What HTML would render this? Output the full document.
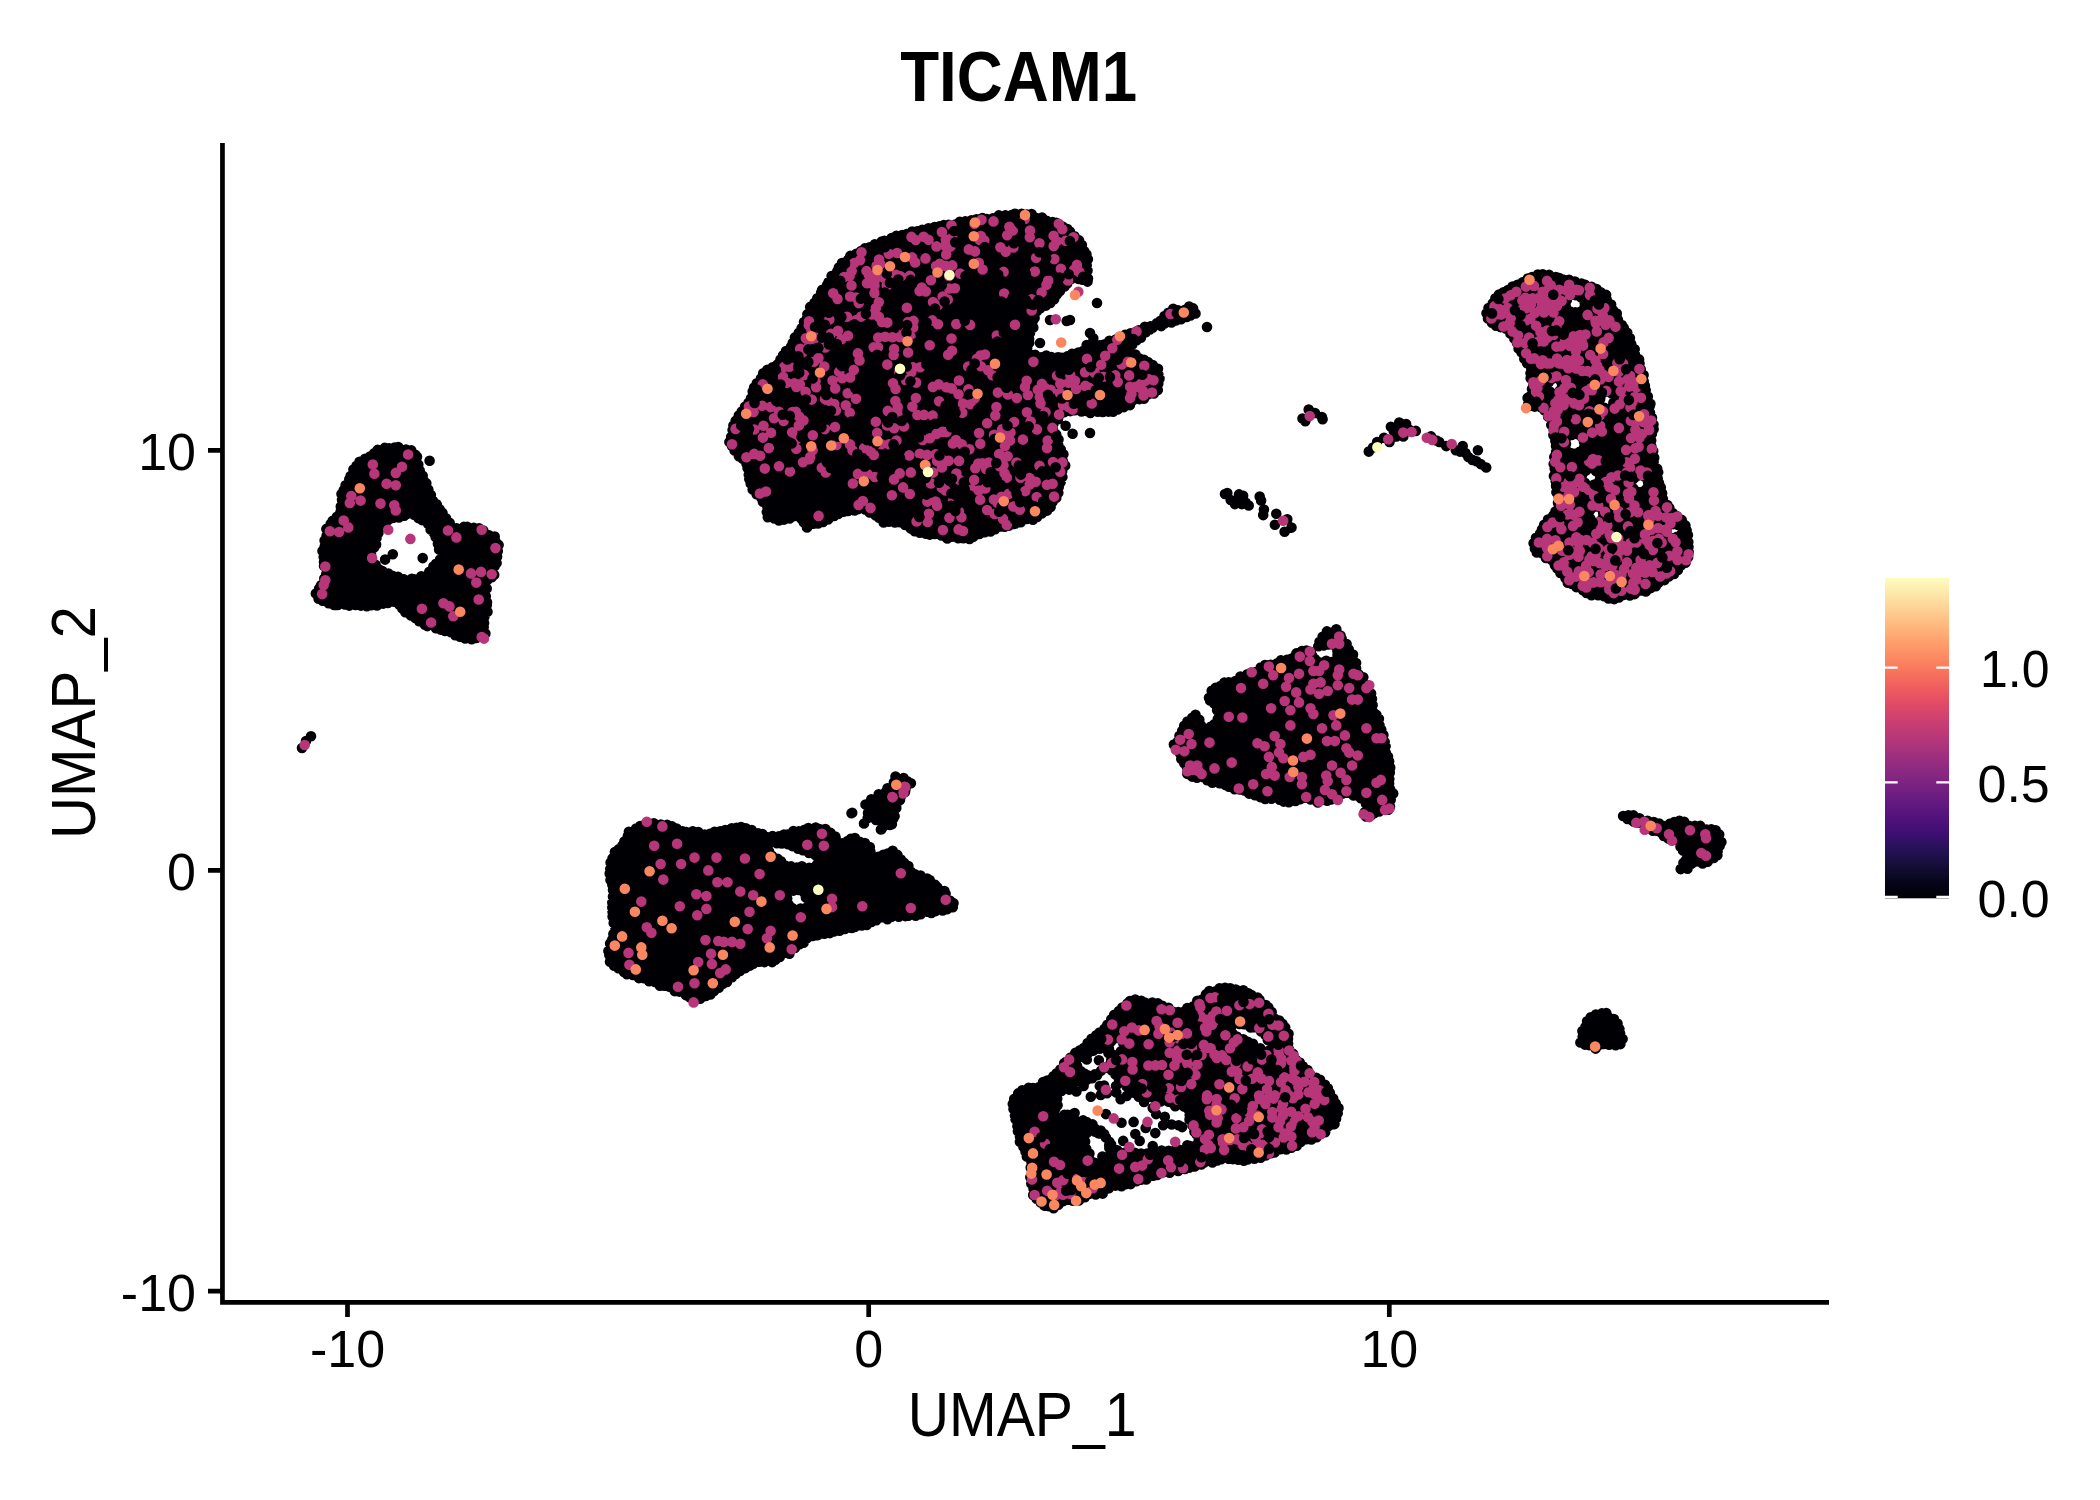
<!DOCTYPE html>
<html><head><meta charset="utf-8"><style>html,body{margin:0;padding:0;background:#fff;width:2100px;height:1500px;overflow:hidden}</style></head>
<body><svg width="2100" height="1500" viewBox="0 0 2100 1500" style="position:absolute;left:0;top:0">
<defs><linearGradient id="mg" x1="0" y1="0" x2="0" y2="1"><stop offset="0.000" stop-color="#fcfdbf"/><stop offset="0.050" stop-color="#fde7a9"/><stop offset="0.100" stop-color="#fecf92"/><stop offset="0.150" stop-color="#feb77e"/><stop offset="0.200" stop-color="#fe9f6d"/><stop offset="0.250" stop-color="#fc8961"/><stop offset="0.300" stop-color="#f7705c"/><stop offset="0.350" stop-color="#ed5a5f"/><stop offset="0.400" stop-color="#de4968"/><stop offset="0.450" stop-color="#ca3e72"/><stop offset="0.500" stop-color="#b73779"/><stop offset="0.550" stop-color="#a1307e"/><stop offset="0.600" stop-color="#8c2981"/><stop offset="0.650" stop-color="#782281"/><stop offset="0.700" stop-color="#641a80"/><stop offset="0.750" stop-color="#51127c"/><stop offset="0.800" stop-color="#3b0f70"/><stop offset="0.850" stop-color="#251255"/><stop offset="0.900" stop-color="#140e36"/><stop offset="0.950" stop-color="#06051a"/><stop offset="1.000" stop-color="#000004"/></linearGradient></defs>
<rect width="2100" height="1500" fill="#fff"/>
<text x="1018.7" y="101" text-anchor="middle" font-family="Liberation Sans" font-weight="bold" font-size="71" textLength="237" lengthAdjust="spacingAndGlyphs">TICAM1</text>
<path d="M729.4 441.8 734.7 451.1 744.8 461.2 745.1 461.6 745.4 462 745.7 462.5 745.9 462.9 746.1 463.4 749.6 477.3 754.4 490.3 766.2 503.6 766.5 504 766.8 504.4 767 504.9 767.2 505.3 767.3 505.8 767.4 506.3 768.7 518.5 777 519.7 787.5 519.7 791.6 516.9 792 516.7 792.5 516.5 792.9 516.3 793.4 516.2 793.9 516.1 794.3 516.1 794.8 516.1 795.3 516.2 795.8 516.3 796.2 516.5 796.6 516.7 797.1 517 797.4 517.3 807.7 526.1 822.4 521.7 836.2 514.9 836.5 514.7 836.9 514.6 854.6 509.3 855.1 509.2 855.6 509.1 856.1 509.1 856.7 509.1 857.2 509.2 871.2 512.7 871.6 512.9 872 513 872.4 513.2 872.8 513.5 884.1 521.6 900.5 523.2 901 523.3 901.5 523.4 901.9 523.6 902.4 523.8 914.1 530.5 936 535.6 968.1 538.9 986.5 532.3 986.7 532.2 1004.3 526.9 1027.2 519.9 1027.3 519.9 1038.8 516.6 1051.1 507.3 1057.5 492.8 1062.7 477.7 1064.2 463.1 1060.9 449.9 1060.9 449.8 1057.6 435.1 1054.3 431 1054 430.6 1053.8 430.2 1053.6 429.8 1053.4 429.4 1053.3 429 1053.2 428.5 1053.2 428.1 1053.2 427.6 1053.3 427.1 1053.4 426.7 1053.5 426.3 1053.7 425.9 1058.7 415.9 1058.9 415.5 1059.2 415.1 1059.5 414.7 1059.8 414.4 1060.2 414.1 1060.6 413.9 1061 413.7 1061.4 413.5 1061.8 413.3 1073.8 410.3 1074.3 410.3 1074.7 410.2 1075.1 410.2 1075.6 410.2 1092.1 412.2 1115.7 410.3 1130.9 402.7 1131.4 402.5 1150.6 395.7 1158.5 389.5 1160.1 375.4 1157.9 368.2 1147.8 362.3 1131 354.3 1130.5 354.1 1130.1 353.9 1129.8 353.6 1129.4 353.2 1129.1 352.9 1128.9 352.5 1128.7 352 1128.5 351.6 1128.3 351.2 1128.2 350.7 1128.2 350.2 1128.2 349.7 1128.3 349.3 1128.4 348.8 1128.5 348.4 1128.7 347.9 1128.9 347.5 1129.2 347.1 1129.5 346.7 1129.8 346.4 1138.8 338.4 1139.1 338.2 1139.5 337.9 1155.5 327.9 1155.9 327.7 1156.4 327.5 1181.4 318.5 1181.4 318.5 1195.9 313.4 1196.6 310.2 1192 307.1 1169.5 311.4 1161.6 320.2 1161.3 320.5 1160.9 320.8 1160.5 321.1 1160.2 321.3 1159.7 321.5 1118.8 337.5 1088.8 349.5 1088.4 349.6 1061.4 357.6 1060.9 357.7 1060.4 357.8 1059.9 357.8 1059.5 357.8 1032.5 354.8 1032 354.7 1031.6 354.6 1031.1 354.4 1030.7 354.2 1030.3 354 1029.9 353.7 1029.6 353.4 1029.3 353 1029 352.6 1028.8 352.2 1028.6 351.8 1028.4 351.4 1028.3 350.9 1028.2 350.5 1028.2 350 1028.2 338 1028.2 337.6 1028.3 337.2 1028.4 336.8 1028.5 336.4 1032.4 325.6 1035.3 313.8 1035.5 313.4 1035.7 313 1035.9 312.6 1036.1 312.2 1036.4 311.8 1036.7 311.5 1037.1 311.2 1037.5 310.9 1045.3 306 1054.3 299.8 1058.7 290.9 1058.9 290.4 1059.2 290.1 1059.5 289.7 1059.8 289.4 1060.2 289.1 1074.2 279.1 1074.6 278.8 1075 278.6 1075.5 278.4 1076 278.3 1076.4 278.2 1076.9 278.2 1077.4 278.2 1077.9 278.3 1078.4 278.4 1078.8 278.6 1079.2 278.8 1079.7 279 1084.5 282.2 1087.8 282.2 1087.2 273.3 1087.2 272.7 1088.1 258.2 1082.9 249.5 1082.6 248.9 1079 240.8 1069.8 231.6 1060.7 224.3 1045.6 219.6 1024.6 213.6 1013.1 214.8 975.8 219.7 950.9 224.7 950.8 224.7 921.1 229.7 889.1 239.5 864.6 249.3 841 263.5 834.1 275 833.9 275.3 809.3 309.7 804.6 324 804.4 324.4 804.2 324.8 804 325.2 779 362.7 778.7 363 778.4 363.4 778 363.7 777.7 364 763.6 373.4 754.3 389.6 749.5 401.8 749.3 402.2 749.1 402.5 748.8 402.9 734.4 422.1 729.7 441.2 729.5 441.6 729.4 441.8ZM378.1 449.9 371.6 456.4 371.2 456.7 370.8 457 370.4 457.3 356.5 464.3 349.5 478.2 340.8 495.6 340.8 508.2 340.8 508.7 340.7 509.1 340.6 509.6 340.5 510 340.3 510.4 340.1 510.8 339.8 511.2 329.5 524.4 325.4 535.4 323.9 549.9 323.9 577.2 323.9 577.7 323.9 578.1 323.8 578.6 323.6 579 323.4 579.4 323.2 579.8 316.5 590.6 317.4 597.3 332.4 606 343.1 604.7 343.5 604.6 344 604.7 366.6 606.2 381.1 604.7 391.4 601.8 391.9 601.7 392.4 601.6 392.8 601.6 393.3 601.6 393.7 601.7 394.2 601.8 394.6 602 395 602.2 395.4 602.4 395.8 602.7 396.2 603 403.5 610.3 422.5 623.5 437.1 627.9 437.4 628 457.2 635.6 471.1 639.7 481.1 637.3 485.6 633.6 483.2 622.8 483.1 622.3 483.1 621.8 483.1 621.4 483.1 620.9 483.2 620.5 483.4 620 487.6 608.9 484.6 583.9 484.6 583.4 484.6 583 484.7 582.5 484.8 582 485 581.5 485.2 581.1 485.4 580.7 485.7 580.3 486 579.9 486.4 579.6 486.8 579.3 487.2 579.1 494.3 575.6 496.9 559.6 496.9 559.4 499.6 546 492.3 535.1 473.2 526.9 454.5 528.3 454 528.4 453.5 528.3 453 528.2 452.5 528.1 452.1 527.9 451.6 527.7 451.2 527.4 450.9 527.1 450.5 526.7 450.2 526.4 449.9 525.9 444 515.6 436.6 506.7 436.3 506.2 436 505.8 428.3 490.4 428.2 490.1 420.5 471.7 420.3 471.1 416.1 455.7 409.1 449.9 397.2 447.9 378.1 449.9ZM377.5 538.7 383.6 521.9 383.8 521.5 384 521.1 384.3 520.7 384.6 520.4 384.9 520 385.2 519.8 385.6 519.5 386 519.3 386.4 519.1 386.8 518.9 387.3 518.8 411.8 514.2 412.3 514.2 412.8 514.2 413.3 514.2 413.8 514.3 414.3 514.4 414.7 514.6 415.2 514.8 415.6 515.1 427.8 524.3 428.2 524.6 428.5 524.9 428.8 525.3 429 525.6 429.3 526 441.5 550.6 441.7 551 441.9 551.4 442 551.9 442 552.3 442 552.8 442 553.2 441.9 553.7 441.8 554.1 441.7 554.6 441.5 555 441.2 555.4 429 573.8 428.7 574.2 428.3 574.5 428 574.8 427.6 575.1 427.2 575.4 426.7 575.6 426.2 575.7 425.8 575.8 407.4 578.9 406.9 579 406.5 579 406.1 578.9 405.7 578.9 405.2 578.8 383.8 572.7 383.4 572.5 382.9 572.3 382.6 572.1 382.2 571.9 381.8 571.6 381.5 571.3 381.3 570.9 372 558.6 371.8 558.2 371.5 557.8 371.4 557.4 371.2 556.9 371.1 556.4 371.1 555.9 371.1 555.4 371.2 554.9 371.3 554.4 371.4 554 377.5 538.7ZM609.5 874.5 613 890.5 613.1 890.9 613.1 891.4 613.1 891.9 611.3 911.4 614.9 929.1 614.9 929.5 615 930 614.9 930.5 614.9 930.9 614.8 931.4 609.5 948.8 611 962.2 628.8 975.1 653.7 982.2 653.9 982.3 679.6 991.5 680.1 991.7 680.5 991.9 693.5 1000.1 707 997.1 726.3 981.3 726.5 981.2 748.5 964.7 748.8 964.4 749.2 964.2 749.6 964 750.1 963.9 750.5 963.8 750.9 963.7 771.8 962 789.1 951.6 811 937 811.5 936.7 812 936.5 812.5 936.3 827.2 932.7 827.4 932.6 863.6 925.4 881.6 918.2 882 918.1 882.4 918 882.9 917.9 883.3 917.9 901.2 917.9 937.2 910.7 955.7 905.4 944.1 891.2 930.3 879.7 920.8 875.6 920.6 875.4 911.8 871 911.4 870.8 910.9 870.5 910.6 870.1 910.2 869.8 902.2 859.8 894.7 853 890.6 850.3 886.9 854.4 886.6 854.7 886.2 855 885.8 855.3 885.4 855.5 885 855.7 884.5 855.8 877.2 857.7 876.7 857.7 876.2 857.8 875.8 857.8 875.3 857.8 874.8 857.7 874.4 857.5 874 857.3 873.6 857.1 873.2 856.9 872.8 856.6 872.5 856.2 872.2 855.9 871.9 855.5 871.7 855.1 871.5 854.7 871.4 854.2 871.3 853.8 871.2 853.3 870.9 848.9 867.7 845.2 860.8 842.7 860.4 842.5 860 842.3 859.7 842.1 859.3 841.8 853.5 836.8 843.6 842.5 843.1 842.7 842.7 842.9 842.3 843 841.8 843.1 841.4 843.1 840.9 843.1 840.4 843.1 840 843 839.6 842.9 839.1 842.7 838.7 842.5 838.3 842.2 838 841.9 837.7 841.6 837.4 841.3 837.1 840.9 836.9 840.5 832.3 831.4 815.4 826.8 800.2 830.1 782 835.6 781.5 835.7 770.5 837.6 770 837.6 769.5 837.6 769 837.6 768.5 837.5 768 837.3 767.5 837.1 753.2 829.9 743.6 826.8 723 830.2 708.5 833.8 708 833.9 707.5 834 707 834 706.5 833.9 684.5 830.2 684 830.1 666.1 824.7 645.9 823.1 630 831 621.6 844.5 621.3 845 620.9 845.4 612.7 853.6 609.5 868.2 609.5 874.5ZM793 846.6 793.5 846.7 815.5 855.9 815.9 856.1 816.3 856.3 816.7 856.6 817.1 856.9 817.4 857.3 817.7 857.7 817.9 858.1 818.1 858.5 818.3 858.9 818.4 859.4 818.4 859.9 818.5 860.3 818.4 860.8 818.4 861.3 818.3 861.7 818.1 862.2 817.9 862.6 817.7 863 817.4 863.4 817.1 863.7 813.4 867.4 813.1 867.7 812.7 868 812.3 868.2 811.9 868.4 811.5 868.6 811 868.7 810.6 868.8 810.1 868.8 809.7 868.8 809.2 868.7 787.2 865.1 786.8 865 786.3 864.8 785.9 864.6 785.5 864.4 770.8 855.2 770.4 855 770 854.6 769.7 854.3 769.4 853.9 769.1 853.5 768.9 853.1 768.8 852.6 768.6 852.1 768.6 851.7 768.5 851.2 768.5 845.7 768.6 845.2 768.6 844.7 768.7 844.3 768.9 843.8 769.1 843.4 769.3 843 769.6 842.6 769.9 842.3 770.3 842 770.7 841.7 771.1 841.4 771.5 841.2 771.9 841.1 772.4 841 772.9 840.9 773.3 840.9 773.8 840.9 774.3 841 774.7 841.1 793 846.6ZM799.5 889.5 799.9 889.5 800.4 889.7 800.8 889.8 801.3 890 801.7 890.3 802.1 890.5 802.4 890.9 802.7 891.2 803 891.6 808.5 899.8 808.7 900.2 808.9 900.7 809.1 901.1 809.2 901.6 809.3 902 809.3 902.5 809.3 903 809.2 903.4 809.1 903.9 808.9 904.3 808.7 904.8 808.5 905.2 808.2 905.5 807.9 905.9 807.5 906.2 807.2 906.5 806.8 906.7 806.3 906.9 805.9 907.1 805.4 907.2 805 907.3 804.5 907.3 793.5 907.3 793 907.3 792.6 907.2 792.1 907.1 791.6 906.9 791.2 906.7 790.8 906.5 790.4 906.2 790.1 905.9 789.8 905.5 789.5 905.1 789.2 904.7 789 904.3 785.4 895.1 785.2 894.7 785.1 894.2 785.1 893.8 785 893.3 785.1 892.8 785.1 892.4 785.3 891.9 785.4 891.5 785.6 891 785.9 890.6 786.1 890.3 786.5 889.9 786.8 889.6 787.2 889.3 787.6 889.1 788 888.9 788.5 888.7 788.9 888.6 789.4 888.6 789.8 888.5 790.3 888.6 799.5 889.5ZM890 786.6 889.8 786.9 883.8 794.9 883.4 795.4 873.8 805 868.3 814.1 865.6 820.8 866 821.2 872.6 814.6 873 814.3 873.3 814 873.7 813.8 874.2 813.6 874.6 813.4 875.1 813.3 875.5 813.2 876 813.2 876.5 813.2 876.9 813.3 877.4 813.4 877.8 813.6 878.3 813.8 878.7 814 879 814.3 879.4 814.6 879.7 815 880 815.3 884 821.3 884.2 821.7 884.4 822.1 884.6 822.6 884.7 823 884.8 823.5 884.8 823.9 884.8 824.4 884.7 824.8 884.6 825.3 884.5 825.7 884.3 826.1 883.6 827.6 884 827.8 889.6 825.3 893.4 818.4 895.2 805.3 895.3 804.8 895.5 804.3 895.7 803.9 899.7 795.9 899.9 795.5 900.2 795.1 900.5 794.8 900.8 794.4 901.1 794.2 907.7 789.3 908.7 783.8 903.9 779.5 895.4 778.2 890 786.6ZM1013.5 1103.9 1016.6 1122.8 1021.5 1142.4 1029.7 1158.8 1029.9 1159.3 1030.1 1159.7 1030.2 1160.2 1030.2 1160.6 1031.9 1184 1034.8 1198.7 1044.6 1205.7 1054.3 1209.4 1058.9 1203.6 1059.2 1203.2 1059.6 1202.9 1060 1202.6 1060.4 1202.4 1060.9 1202.1 1061.3 1202 1061.8 1201.9 1081.7 1198.6 1094.8 1193.7 1094.9 1193.6 1115.2 1186.8 1115.7 1186.7 1139.1 1181.7 1162.4 1173.4 1162.9 1173.2 1163.3 1173.1 1183.1 1169.8 1196.2 1164.9 1196.6 1164.8 1222 1158 1222.5 1157.9 1223 1157.9 1223.5 1157.9 1224 1157.9 1244.9 1161.1 1267.4 1154.7 1280.7 1149.7 1281 1149.6 1297.9 1144.5 1314 1139.7 1326.6 1130.3 1335.6 1121.3 1338.3 1110.3 1335.5 1100.5 1326.1 1086.4 1316.5 1078.4 1316.5 1078.4 1304.6 1068.2 1304.3 1068 1304.1 1067.7 1295.6 1057.5 1295.2 1057 1286.8 1043.5 1286.6 1043.1 1286.4 1042.7 1286.2 1042.2 1286.1 1041.8 1286.1 1041.4 1286.1 1040.9 1286.1 1040.5 1286.1 1040 1286.3 1039.6 1286.4 1039.2 1288.7 1033.4 1278.8 1022.1 1278.6 1021.8 1278.3 1021.5 1270.2 1008.4 1259.5 997.7 1247 993.1 1228.2 986.8 1208.6 992.9 1194.1 1004.1 1193.8 1004.4 1183.6 1011.1 1183.2 1011.4 1182.8 1011.6 1182.3 1011.7 1181.8 1011.8 1181.4 1011.9 1180.9 1011.9 1180.4 1011.9 1179.9 1011.8 1179.4 1011.7 1159.3 1005 1146.1 1001.7 1131.7 998.8 1116.8 1012.1 1103.6 1028.7 1103.3 1029 1103 1029.3 1086.1 1044.5 1086 1044.6 1075.9 1053 1062.7 1064.6 1052.7 1076.2 1052.3 1076.6 1051.9 1077 1040.1 1085.4 1039.6 1085.7 1039.1 1085.9 1038.6 1086.1 1022.6 1090.9 1016 1096.2 1013.5 1103.9ZM1229.4 1028.4 1229.2 1028 1229 1027.6 1228.8 1027.2 1228.7 1026.7 1228.6 1026.3 1228.6 1025.8 1228.6 1025.3 1228.7 1024.9 1228.8 1024.4 1228.9 1024 1229.1 1023.6 1229.3 1023.1 1229.6 1022.8 1229.9 1022.4 1230.2 1022.1 1230.6 1021.8 1231 1021.6 1231.4 1021.3 1231.8 1021.2 1232.3 1021 1232.7 1021 1233.2 1020.9 1233.7 1020.9 1234.1 1021 1234.6 1021.1 1235 1021.2 1245.1 1024.9 1258.6 1029.6 1259 1029.8 1259.4 1030 1259.8 1030.2 1260.1 1030.5 1260.4 1030.8 1272.3 1042.6 1272.6 1043 1272.9 1043.3 1273.1 1043.7 1273.3 1044.2 1273.5 1044.6 1273.6 1045.1 1273.7 1045.5 1273.7 1046 1273.7 1046.5 1273.6 1046.9 1273.5 1047.4 1273.3 1047.8 1273.1 1048.2 1272.9 1048.6 1272.6 1049 1272.3 1049.4 1272 1049.7 1271.6 1050 1271.2 1050.2 1270.8 1050.4 1270.3 1050.6 1269.9 1050.7 1269.4 1050.8 1268.9 1050.8 1268.5 1050.8 1268 1050.7 1267.6 1050.6 1255.7 1047.2 1255.3 1047.1 1254.9 1046.9 1254.5 1046.7 1242.7 1039.1 1233.4 1033.6 1233 1033.3 1232.6 1032.9 1232.3 1032.6 1231.9 1032.1 1229.4 1028.4ZM1055.6 1098.9 1055.5 1098.5 1055.3 1098 1055.2 1097.6 1055.2 1097.1 1055.1 1096.7 1055.2 1096.2 1055.2 1095.8 1055.4 1095.3 1055.5 1094.9 1055.7 1094.5 1055.9 1094.1 1056.2 1093.7 1056.5 1093.4 1056.9 1093.1 1057.2 1092.8 1057.6 1092.5 1075 1083 1075.4 1082.8 1075.9 1082.6 1095 1076.8 1097.9 1074.6 1097.7 1074.6 1089 1075.5 1088.6 1075.5 1088.1 1075.5 1087.7 1075.5 1087.2 1075.4 1086.8 1075.2 1086.4 1075 1086 1074.8 1079.1 1070.5 1078.7 1070.2 1078.3 1069.9 1078 1069.6 1077.7 1069.2 1077.5 1068.8 1077.2 1068.4 1077.1 1068 1076.9 1067.5 1076.9 1067.1 1076 1061 1075.9 1060.5 1075.9 1060.1 1076 1059.6 1076.1 1059.1 1076.2 1058.7 1076.4 1058.3 1076.6 1057.8 1076.9 1057.5 1077.2 1057.1 1077.5 1056.8 1077.9 1056.5 1078.3 1056.2 1078.7 1056 1079.1 1055.8 1093.8 1050.6 1100.7 1048 1101.2 1047.9 1101.6 1047.8 1102.1 1047.7 1102.6 1047.7 1103 1047.8 1103.5 1047.9 1103.9 1048 1104.4 1048.2 1104.8 1048.4 1105.2 1048.6 1105.6 1048.9 1105.9 1049.2 1106.2 1049.6 1106.5 1050 1106.7 1050.4 1110.2 1057.3 1110.4 1057.7 1110.5 1058.2 1110.6 1058.6 1110.7 1059.1 1110.7 1059.6 1110.6 1060 1110.6 1060.5 1110.4 1060.9 1110.3 1061.4 1110.1 1061.8 1109.8 1062.2 1109.6 1062.5 1102.2 1071.4 1104.7 1069.5 1105.1 1069.2 1105.5 1069 1105.9 1068.8 1106.4 1068.7 1106.8 1068.6 1107.3 1068.5 1107.8 1068.5 1108.2 1068.6 1108.7 1068.7 1109.1 1068.8 1109.6 1069 1110 1069.2 1110.4 1069.4 1110.7 1069.7 1116.8 1074.9 1117.1 1075.2 1117.4 1075.5 1117.6 1075.8 1124.8 1086.2 1137.4 1093.3 1152.4 1099.1 1162.2 1101.5 1175.8 1103.2 1176.2 1103.3 1176.6 1103.4 1177 1103.5 1185.7 1107 1186.1 1107.2 1186.5 1107.5 1186.9 1107.7 1187.2 1108.1 1187.6 1108.4 1187.9 1108.8 1188.1 1109.2 1188.3 1109.6 1188.5 1110.1 1188.6 1110.5 1190.3 1118.9 1197.1 1139.4 1197.2 1139.9 1197.3 1140.3 1197.3 1140.8 1197.3 1141.2 1197.3 1141.7 1197.2 1142.1 1197.1 1142.6 1196.9 1143 1196.7 1143.4 1196.4 1143.8 1196.1 1144.2 1195.8 1144.5 1195.4 1144.8 1195.1 1145 1194.7 1145.3 1194.2 1145.4 1180.4 1150.6 1179.9 1150.8 1179.5 1150.9 1179 1150.9 1166 1151.8 1144.4 1153.5 1144 1153.5 1143.5 1153.5 1135 1152.7 1117.8 1151.8 1117.3 1151.8 1116.9 1151.7 1116.4 1151.6 1116 1151.4 1115.6 1151.2 1115.3 1150.9 1107.4 1145.5 1110.2 1150.9 1110.4 1151.4 1110.5 1151.8 1110.6 1152.3 1110.7 1152.8 1110.7 1153.3 1110.6 1153.7 1110.5 1154.2 1110.4 1154.7 1110.2 1155.1 1110 1155.6 1109.7 1156 1104.5 1162.9 1104.2 1163.3 1103.9 1163.6 1103.5 1163.9 1103.1 1164.2 1102.7 1164.4 1102.2 1164.6 1101.8 1164.7 1101.3 1164.8 1100.8 1164.8 1100.4 1164.8 1099.9 1164.7 1099.4 1164.6 1099 1164.5 1098.5 1164.3 1091.6 1160.8 1091.2 1160.6 1090.8 1160.4 1090.5 1160.1 1090.2 1159.8 1089.9 1159.4 1089.6 1159 1089.4 1158.6 1089.2 1158.2 1084 1144.4 1083.9 1143.9 1083.8 1143.5 1083.8 1143.1 1083.7 1142.6 1083.8 1142.2 1083.8 1141.7 1085.6 1133.1 1085.7 1132.6 1085.8 1132.2 1086 1131.7 1086.3 1131.3 1086.6 1131 1086.9 1130.6 1087.2 1130.3 1087.6 1130 1088 1129.8 1088.5 1129.6 1088.9 1129.4 1089.4 1129.3 1089.8 1129.2 1090.3 1129.2 1090.8 1129.2 1091.2 1129.3 1091.7 1129.4 1092.1 1129.6 1092.6 1129.8 1093 1130 1093.3 1130.3 1100.4 1136.2 1096.9 1130.9 1088.2 1121.5 1076.4 1121.5 1075.9 1121.4 1075.4 1121.4 1074.9 1121.2 1065.2 1118 1057.3 1118 1056.9 1118 1056.4 1117.9 1055.9 1117.8 1055.5 1117.6 1055 1117.4 1054.6 1117.2 1054.2 1116.9 1053.9 1116.6 1053.6 1116.2 1053.3 1115.8 1053.1 1115.4 1052.9 1115 1052.7 1114.5 1052.6 1114 1052.5 1113.6 1052.5 1113.1 1052.6 1112.6 1052.7 1112.1 1052.8 1111.7 1053 1111.2 1053.2 1110.8 1053.4 1110.4 1053.7 1110 1058.5 1104.6 1055.6 1098.9ZM1109.7 1042.1 1109.8 1041.7 1109.8 1041.2 1110 1040.7 1110.1 1040.3 1110.3 1039.8 1110.6 1039.4 1110.9 1039.1 1111.2 1038.7 1111.5 1038.4 1111.9 1038.1 1112.3 1037.9 1112.8 1037.7 1113.2 1037.5 1113.7 1037.4 1114.2 1037.3 1114.6 1037.3 1115.1 1037.4 1115.6 1037.5 1116.1 1037.6 1116.5 1037.8 1116.9 1038 1117.3 1038.2 1123.4 1042.6 1123.8 1042.9 1124.1 1043.2 1124.4 1043.6 1124.7 1043.9 1124.9 1044.4 1125.1 1044.8 1125.3 1045.3 1125.3 1045.7 1125.4 1046.2 1125.4 1046.7 1125.4 1047.2 1125.3 1047.6 1125.1 1048.1 1124.9 1048.5 1124.7 1048.9 1122.1 1053.3 1121.9 1053.7 1121.6 1054 1121.2 1054.4 1120.8 1054.7 1120.4 1054.9 1120 1055.2 1119.6 1055.3 1119.1 1055.5 1118.6 1055.6 1118.2 1055.6 1117.7 1055.6 1117.2 1055.5 1116.8 1055.4 1116.3 1055.3 1115.9 1055.1 1112.4 1053.4 1112 1053.1 1111.6 1052.8 1111.2 1052.5 1110.9 1052.2 1110.6 1051.8 1110.3 1051.4 1110.1 1050.9 1110 1050.5 1109.8 1050 1109.8 1049.6 1109.7 1049.1 1109.7 1042.1ZM1174 744.6 1175.4 748 1178.4 750.1 1178.8 750.3 1179.1 750.6 1179.4 751 1179.7 751.3 1180 751.7 1180.2 752.1 1180.3 752.5 1184.5 765.1 1190.3 776.7 1203.4 777.9 1203.9 778 1204.3 778.1 1204.8 778.3 1218.9 783.9 1233.1 788.2 1247.4 792.5 1247.9 792.6 1263.7 799.2 1276.6 796.6 1277.1 796.6 1277.5 796.6 1278 796.6 1278.5 796.6 1279 796.8 1279.4 796.9 1279.8 797.1 1280.2 797.4 1280.6 797.7 1287.2 803.1 1301.8 798.2 1302.3 798.1 1302.8 798 1303.3 798 1303.8 798 1304.3 798.1 1304.7 798.2 1317.9 802.1 1330.4 799.6 1344.2 792.8 1344.7 792.6 1345.1 792.4 1345.6 792.3 1346.1 792.3 1346.6 792.3 1347.1 792.3 1347.6 792.4 1348 792.6 1359.5 796.9 1360 797.1 1360.4 797.3 1360.8 797.6 1361.2 798 1366.9 803.7 1367.3 804 1367.5 804.4 1367.8 804.8 1368 805.3 1368.1 805.7 1368.3 806.2 1368.3 806.6 1368.4 807.1 1368.3 807.6 1368.3 808 1368.1 808.5 1368 808.9 1367.8 809.3 1367.5 809.8 1367.3 810.1 1366.9 810.5 1363.5 813.9 1366.2 816.2 1375 814 1385 810.2 1390.7 803.5 1392.9 793.4 1389.4 786.3 1389.2 785.9 1389 785.5 1388.9 785 1388.9 784.6 1388.9 784.1 1388.9 783.7 1390.3 770 1387.5 753.6 1383.3 738.1 1379.1 722.6 1373.4 708.5 1373.3 708.1 1373.2 707.7 1373.1 707.3 1371.8 696.6 1365.1 681.8 1356.7 669.3 1356.4 668.8 1356.2 668.3 1356 667.8 1353.3 656.7 1346.6 642.1 1337 632.5 1325.6 631.5 1321.8 636.1 1317.8 645.6 1317.7 645.8 1331.6 644.6 1332.1 644.6 1332.6 644.6 1333 644.7 1333.5 644.8 1333.9 645 1334.3 645.2 1334.7 645.4 1335.1 645.7 1335.4 646 1335.7 646.4 1336 646.7 1336.3 647.2 1336.5 647.6 1336.6 648 1336.7 648.5 1338.2 655.6 1338.2 656.1 1338.3 656.6 1338.2 657 1338.2 657.5 1338 658 1337.9 658.4 1337.7 658.8 1337.4 659.2 1337.2 659.6 1336.8 660 1336.5 660.3 1336.1 660.6 1335.7 660.8 1335.3 661 1334.8 661.2 1334.4 661.3 1333.9 661.3 1333.5 661.4 1317.7 661.4 1317.2 661.3 1316.7 661.3 1316.3 661.2 1315.8 661 1315.4 660.8 1315 660.5 1314.6 660.2 1314.2 659.9 1313.9 659.5 1313.6 659.1 1313.4 658.7 1310.5 653 1310.3 652.6 1310.2 652.1 1310.1 651.7 1310 651.2 1310 650.7 1310.1 650.3 1310.1 649.8 1310.3 649.3 1310.3 649.3 1302.3 651 1291.6 657.8 1291.2 658 1290.8 658.2 1290.4 658.3 1276.1 662.6 1262.1 666.8 1248.2 673.8 1247.9 673.9 1230.8 681 1216.9 688 1207.8 694.1 1210 698.6 1219.2 712.7 1219.4 713.1 1219.6 713.6 1219.8 714 1219.9 714.5 1220 714.9 1220 715.4 1220 715.9 1219.9 716.3 1219.8 716.8 1219.6 717.2 1219.4 717.6 1219.2 718 1218.9 718.4 1211.7 727 1211.4 727.4 1211 727.7 1210.7 727.9 1210.3 728.2 1209.8 728.4 1209.4 728.5 1209 728.7 1208.5 728.7 1208 728.7 1207.6 728.7 1207.1 728.7 1206.6 728.5 1206.2 728.4 1205.8 728.2 1205.4 727.9 1205 727.7 1204.7 727.4 1204.3 727 1197.2 718.4 1197 718.2 1194.2 714.5 1190.9 718.4 1190.6 718.7 1182.8 726.6 1178.8 737.1 1178.6 737.6 1178.3 738.1 1174 744.6ZM1486.8 313.5 1490.1 321.8 1507.1 330.3 1507.5 330.6 1507.9 330.8 1508.2 331.1 1508.5 331.4 1508.8 331.7 1509.1 332.1 1520.7 350.8 1520.9 351.1 1530.3 369.8 1530.5 370.3 1530.6 370.8 1530.7 371.4 1533.1 390 1533.1 390.5 1533.1 390.9 1533 391.4 1532.9 391.8 1532.8 392.3 1532.6 392.7 1532.4 393.1 1532.1 393.5 1526.4 401.1 1527.6 406.8 1540 406.8 1540.5 406.8 1541 406.9 1541.4 407 1541.9 407.2 1542.3 407.4 1542.8 407.7 1543.1 408 1543.5 408.3 1543.8 408.7 1544.1 409.1 1551.1 420.8 1551.3 421.3 1551.5 421.8 1551.7 422.3 1556.3 445.6 1556.4 446.1 1556.4 446.6 1556.4 447.1 1554.1 469.9 1556.4 492.6 1558.7 506.4 1558.8 506.9 1558.8 507.4 1558.7 507.8 1558.7 508.3 1558.5 508.7 1558.4 509.1 1558.2 509.5 1557.9 509.9 1557.7 510.3 1557.4 510.6 1548.4 519.6 1539.3 533.2 1531.9 544.4 1536.2 550.2 1551.7 559 1552.1 559.3 1552.4 559.6 1552.8 559.9 1553.1 560.3 1553.4 560.6 1566.7 581.8 1588.4 593.7 1610.1 599.1 1632 594.7 1654.4 586.9 1676.7 571.3 1689.1 556.8 1689.1 540.5 1684.9 523.7 1671.9 510.6 1671.5 510.3 1671.3 509.9 1661.9 495.9 1661.7 495.5 1661.5 495.1 1661.3 494.6 1661.2 494.2 1651.9 447.5 1651.8 447.1 1651.8 446.6 1651.8 423.6 1649.5 405.5 1644.9 387.1 1638 359.4 1629 336.8 1617.5 318.5 1617.3 318.1 1606.3 296 1589.4 285.5 1562.2 278.7 1540.5 274.3 1514.2 285.3 1496.7 296.2 1488.3 308.8 1486.8 313.5ZM1682.6 528.2 1682.7 528.7 1682.7 529 1682.8 529.5 1682.8 529.8 1682.8 530.2 1682.8 530.5 1682.7 531 1682.7 531.3 1682.6 531.8 1682.5 532 1682.4 532.5 1682.3 532.8 1682.1 533.2 1682 533.5 1681.8 533.9 1681.6 534.1 1681.3 534.5 1681.2 534.8 1680.9 535.1 1680.7 535.3 1680.3 535.7 1680.1 535.9 1679.8 536.2 1679.5 536.3 1679.1 536.6 1678.9 536.8 1678.5 537 1678.2 537.1 1677.8 537.3 1677.5 537.4 1677 537.5 1676.8 537.6 1676.3 537.7 1676 537.7 1675.5 537.8 1675.2 537.8 1674.8 537.8 1674.5 537.8 1674 537.7 1673.7 537.7 1673.2 537.6 1673 537.5 1672.5 537.4 1672.2 537.3 1671.8 537.1 1671.5 537 1671.1 536.8 1670.9 536.6 1670.5 536.3 1670.2 536.2 1669.9 535.9 1669.7 535.7 1669.3 535.3 1669.1 535.1 1668.8 534.8 1668.7 534.5 1668.4 534.1 1668.2 533.9 1668 533.5 1667.9 533.2 1667.7 532.8 1667.6 532.5 1667.5 532 1667.4 531.8 1667.3 531.3 1667.3 531 1667.2 530.5 1667.2 530.2 1667.2 529.8 1667.2 529.5 1667.3 529 1667.3 528.7 1667.4 528.2 1667.5 528 1667.6 527.5 1667.7 527.2 1667.9 526.8 1668 526.5 1668.2 526.1 1668.4 525.9 1668.7 525.5 1668.8 525.2 1669.1 524.9 1669.3 524.7 1669.7 524.3 1669.9 524.1 1670.2 523.8 1670.5 523.7 1670.9 523.4 1671.1 523.2 1671.5 523 1671.8 522.9 1672.2 522.7 1672.5 522.6 1673 522.5 1673.2 522.4 1673.7 522.3 1674 522.3 1674.5 522.2 1674.8 522.2 1675.2 522.2 1675.5 522.2 1676 522.3 1676.3 522.3 1676.8 522.4 1677 522.5 1677.5 522.6 1677.8 522.7 1678.2 522.9 1678.5 523 1678.9 523.2 1679.1 523.4 1679.5 523.7 1679.8 523.8 1680.1 524.1 1680.3 524.3 1680.7 524.7 1680.9 524.9 1681.2 525.2 1681.3 525.5 1681.6 525.9 1681.8 526.1 1682 526.5 1682.1 526.8 1682.3 527.2 1682.4 527.5 1682.5 528 1682.6 528.2ZM1648.1 482.2 1648.2 482.6 1648.2 483 1648.3 483.4 1648.3 483.8 1648.3 484.2 1648.3 484.6 1648.2 485 1648.2 485.4 1648.1 485.8 1648 486.2 1647.9 486.6 1647.8 487 1647.6 487.4 1647.4 487.7 1647.2 488.1 1647 488.4 1646.8 488.8 1646.6 489.1 1646.3 489.4 1646 489.7 1645.7 490 1645.4 490.3 1645.1 490.6 1644.8 490.8 1644.4 491 1644.1 491.2 1643.7 491.4 1643.4 491.6 1643 491.8 1642.6 491.9 1642.2 492 1641.8 492.1 1641.4 492.2 1641 492.2 1640.6 492.3 1640.2 492.3 1639.8 492.3 1639.4 492.3 1639 492.2 1638.6 492.2 1638.2 492.1 1637.8 492 1637.4 491.9 1637 491.8 1636.6 491.6 1636.3 491.4 1635.9 491.2 1635.6 491 1635.2 490.8 1634.9 490.6 1634.6 490.3 1634.3 490 1634 489.7 1633.7 489.4 1633.4 489.1 1633.2 488.8 1633 488.4 1632.8 488.1 1632.6 487.7 1632.4 487.4 1632.2 487 1632.1 486.6 1632 486.2 1631.9 485.8 1631.8 485.4 1631.8 485 1631.7 484.6 1631.7 484.2 1631.7 483.8 1631.7 483.4 1631.8 483 1631.8 482.6 1631.9 482.2 1632 481.8 1632.1 481.4 1632.2 481 1632.4 480.6 1632.6 480.3 1632.8 479.9 1633 479.6 1633.2 479.2 1633.4 478.9 1633.7 478.6 1634 478.3 1634.3 478 1634.6 477.7 1634.9 477.4 1635.2 477.2 1635.6 477 1635.9 476.8 1636.3 476.6 1636.6 476.4 1637 476.2 1637.4 476.1 1637.8 476 1638.2 475.9 1638.6 475.8 1639 475.8 1639.4 475.7 1639.8 475.7 1640.2 475.7 1640.6 475.7 1641 475.8 1641.4 475.8 1641.8 475.9 1642.2 476 1642.6 476.1 1643 476.2 1643.4 476.4 1643.7 476.6 1644.1 476.8 1644.4 477 1644.8 477.2 1645.1 477.4 1645.4 477.7 1645.7 478 1646 478.3 1646.3 478.6 1646.6 478.9 1646.8 479.2 1647 479.6 1647.2 479.9 1647.4 480.3 1647.6 480.6 1647.8 481 1647.9 481.4 1648 481.8 1648.1 482.2ZM1615.7 398.2 1615.8 398.6 1615.8 399 1615.9 399.4 1615.9 399.8 1615.9 400.2 1615.9 400.6 1615.8 401 1615.8 401.4 1615.7 401.8 1615.6 402.2 1615.5 402.6 1615.4 403 1615.2 403.4 1615 403.7 1614.8 404.1 1614.6 404.4 1614.4 404.8 1614.2 405.1 1613.9 405.4 1613.6 405.7 1613.3 406 1613 406.3 1612.7 406.6 1612.4 406.8 1612 407 1611.7 407.2 1611.3 407.4 1611 407.6 1610.6 407.8 1610.2 407.9 1609.8 408 1609.4 408.1 1609 408.2 1608.6 408.2 1608.2 408.3 1607.8 408.3 1607.4 408.3 1607 408.3 1606.6 408.2 1606.2 408.2 1605.8 408.1 1605.4 408 1605 407.9 1604.6 407.8 1604.2 407.6 1603.9 407.4 1603.5 407.2 1603.2 407 1602.8 406.8 1602.5 406.6 1602.2 406.3 1601.9 406 1601.6 405.7 1601.3 405.4 1601 405.1 1600.8 404.8 1600.6 404.4 1600.4 404.1 1600.2 403.7 1600 403.4 1599.8 403 1599.7 402.6 1599.6 402.2 1599.5 401.8 1599.4 401.4 1599.4 401 1599.3 400.6 1599.3 400.2 1599.3 399.8 1599.3 399.4 1599.4 399 1599.4 398.6 1599.5 398.2 1599.6 397.8 1599.7 397.4 1599.8 397 1600 396.6 1600.2 396.3 1600.4 395.9 1600.6 395.6 1600.8 395.2 1601 394.9 1601.3 394.6 1601.6 394.3 1601.9 394 1602.2 393.7 1602.5 393.4 1602.8 393.2 1603.2 393 1603.5 392.8 1603.9 392.6 1604.2 392.4 1604.6 392.2 1605 392.1 1605.4 392 1605.8 391.9 1606.2 391.8 1606.6 391.8 1607 391.7 1607.4 391.7 1607.8 391.7 1608.2 391.7 1608.6 391.8 1609 391.8 1609.4 391.9 1609.8 392 1610.2 392.1 1610.6 392.2 1611 392.4 1611.3 392.6 1611.7 392.8 1612 393 1612.4 393.2 1612.7 393.4 1613 393.7 1613.3 394 1613.6 394.3 1613.9 394.6 1614.2 394.9 1614.4 395.2 1614.6 395.6 1614.8 395.9 1615 396.3 1615.2 396.6 1615.4 397 1615.5 397.4 1615.6 397.8 1615.7 398.2ZM1604.1 512.2 1604.2 512.6 1604.2 513 1604.3 513.4 1604.3 513.8 1604.3 514.2 1604.3 514.6 1604.2 515 1604.2 515.4 1604.1 515.8 1604 516.2 1603.9 516.6 1603.8 517 1603.6 517.4 1603.4 517.7 1603.2 518.1 1603 518.4 1602.8 518.8 1602.6 519.1 1602.3 519.4 1602 519.7 1601.7 520 1601.4 520.3 1601.1 520.6 1600.8 520.8 1600.4 521 1600.1 521.2 1599.7 521.4 1599.4 521.6 1599 521.8 1598.6 521.9 1598.2 522 1597.8 522.1 1597.4 522.2 1597 522.2 1596.6 522.3 1596.2 522.3 1595.8 522.3 1595.4 522.3 1595 522.2 1594.6 522.2 1594.2 522.1 1593.8 522 1593.4 521.9 1593 521.8 1592.6 521.6 1592.3 521.4 1591.9 521.2 1591.6 521 1591.2 520.8 1590.9 520.6 1590.6 520.3 1590.3 520 1590 519.7 1589.7 519.4 1589.4 519.1 1589.2 518.8 1589 518.4 1588.8 518.1 1588.6 517.7 1588.4 517.4 1588.2 517 1588.1 516.6 1588 516.2 1587.9 515.8 1587.8 515.4 1587.8 515 1587.7 514.6 1587.7 514.2 1587.7 513.8 1587.7 513.4 1587.8 513 1587.8 512.6 1587.9 512.2 1588 511.8 1588.1 511.4 1588.2 511 1588.4 510.6 1588.6 510.3 1588.8 509.9 1589 509.6 1589.2 509.2 1589.4 508.9 1589.7 508.6 1590 508.3 1590.3 508 1590.6 507.7 1590.9 507.4 1591.2 507.2 1591.6 507 1591.9 506.8 1592.3 506.6 1592.6 506.4 1593 506.2 1593.4 506.1 1593.8 506 1594.2 505.9 1594.6 505.8 1595 505.8 1595.4 505.7 1595.8 505.7 1596.2 505.7 1596.6 505.7 1597 505.8 1597.4 505.8 1597.8 505.9 1598.2 506 1598.6 506.1 1599 506.2 1599.4 506.4 1599.7 506.6 1600.1 506.8 1600.4 507 1600.8 507.2 1601.1 507.4 1601.4 507.7 1601.7 508 1602 508.3 1602.3 508.6 1602.6 508.9 1602.8 509.2 1603 509.6 1603.2 509.9 1603.4 510.3 1603.6 510.6 1603.8 511 1603.9 511.4 1604 511.8 1604.1 512.2ZM1599.1 475.2 1599.2 475.6 1599.2 476 1599.3 476.4 1599.3 476.8 1599.3 477.2 1599.3 477.6 1599.2 478 1599.2 478.4 1599.1 478.8 1599 479.2 1598.9 479.6 1598.8 480 1598.6 480.4 1598.4 480.7 1598.2 481.1 1598 481.4 1597.8 481.8 1597.6 482.1 1597.3 482.4 1597 482.7 1596.7 483 1596.4 483.3 1596.1 483.6 1595.8 483.8 1595.4 484 1595.1 484.2 1594.7 484.4 1594.4 484.6 1594 484.8 1593.6 484.9 1593.2 485 1592.8 485.1 1592.4 485.2 1592 485.2 1591.6 485.3 1591.2 485.3 1590.8 485.3 1590.4 485.3 1590 485.2 1589.6 485.2 1589.2 485.1 1588.8 485 1588.4 484.9 1588 484.8 1587.6 484.6 1587.3 484.4 1586.9 484.2 1586.6 484 1586.2 483.8 1585.9 483.6 1585.6 483.3 1585.3 483 1585 482.7 1584.7 482.4 1584.4 482.1 1584.2 481.8 1584 481.4 1583.8 481.1 1583.6 480.7 1583.4 480.4 1583.2 480 1583.1 479.6 1583 479.2 1582.9 478.8 1582.8 478.4 1582.8 478 1582.7 477.6 1582.7 477.2 1582.7 476.8 1582.7 476.4 1582.8 476 1582.8 475.6 1582.9 475.2 1583 474.8 1583.1 474.4 1583.2 474 1583.4 473.6 1583.6 473.3 1583.8 472.9 1584 472.6 1584.2 472.2 1584.4 471.9 1584.7 471.6 1585 471.3 1585.3 471 1585.6 470.7 1585.9 470.4 1586.2 470.2 1586.6 470 1586.9 469.8 1587.3 469.6 1587.6 469.4 1588 469.2 1588.4 469.1 1588.8 469 1589.2 468.9 1589.6 468.8 1590 468.8 1590.4 468.7 1590.8 468.7 1591.2 468.7 1591.6 468.7 1592 468.8 1592.4 468.8 1592.8 468.9 1593.2 469 1593.6 469.1 1594 469.2 1594.4 469.4 1594.7 469.6 1595.1 469.8 1595.4 470 1595.8 470.2 1596.1 470.4 1596.4 470.7 1596.7 471 1597 471.3 1597.3 471.6 1597.6 471.9 1597.8 472.2 1598 472.6 1598.2 472.9 1598.4 473.3 1598.6 473.6 1598.8 474 1598.9 474.4 1599 474.8 1599.1 475.2ZM1584.6 441.9 1584.7 442.3 1584.7 442.8 1584.8 443.3 1584.8 443.8 1584.8 444.2 1584.8 444.7 1584.7 445.2 1584.7 445.7 1584.6 446.1 1584.4 446.6 1584.3 447.1 1584.1 447.5 1584 448 1583.7 448.4 1583.5 448.8 1583.3 449.2 1583 449.6 1582.7 450 1582.4 450.4 1582.1 450.8 1581.8 451.1 1581.4 451.4 1581 451.7 1580.6 452 1580.2 452.3 1579.8 452.5 1579.4 452.7 1579 453 1578.5 453.1 1578.1 453.3 1577.6 453.4 1577.1 453.6 1576.7 453.7 1576.2 453.7 1575.7 453.8 1575.2 453.8 1574.8 453.8 1574.3 453.8 1573.8 453.7 1573.3 453.7 1572.9 453.6 1572.4 453.4 1571.9 453.3 1571.5 453.1 1571 453 1570.6 452.7 1570.2 452.5 1569.8 452.3 1569.4 452 1569 451.7 1568.6 451.4 1568.2 451.1 1567.9 450.8 1567.6 450.4 1567.3 450 1567 449.6 1566.7 449.2 1566.5 448.8 1566.3 448.4 1566 448 1565.9 447.5 1565.7 447.1 1565.6 446.6 1565.4 446.1 1565.3 445.7 1565.3 445.2 1565.2 444.7 1565.2 444.2 1565.2 443.8 1565.2 443.3 1565.3 442.8 1565.3 442.3 1565.4 441.9 1565.6 441.4 1565.7 440.9 1565.9 440.5 1566 440 1566.3 439.6 1566.5 439.2 1566.7 438.8 1567 438.4 1567.3 438 1567.6 437.6 1567.9 437.2 1568.2 436.9 1568.6 436.6 1569 436.3 1569.4 436 1569.8 435.7 1570.2 435.5 1570.6 435.3 1571 435 1571.5 434.9 1571.9 434.7 1572.4 434.6 1572.9 434.4 1573.3 434.3 1573.8 434.3 1574.3 434.2 1574.8 434.2 1575.2 434.2 1575.7 434.2 1576.2 434.3 1576.7 434.3 1577.1 434.4 1577.6 434.6 1578.1 434.7 1578.5 434.9 1579 435 1579.4 435.3 1579.8 435.5 1580.2 435.7 1580.6 436 1581 436.3 1581.4 436.6 1581.8 436.9 1582.1 437.2 1582.4 437.6 1582.7 438 1583 438.4 1583.3 438.8 1583.5 439.2 1583.7 439.6 1584 440 1584.1 440.5 1584.3 440.9 1584.4 441.4 1584.6 441.9ZM1583.6 302.1 1583.7 302.5 1583.7 302.9 1583.8 303.4 1583.8 303.8 1583.8 304.2 1583.8 304.6 1583.7 305.1 1583.7 305.5 1583.6 305.9 1583.5 306.3 1583.3 306.8 1583.2 307.1 1583 307.6 1582.9 307.9 1582.6 308.4 1582.4 308.7 1582.2 309.1 1581.9 309.4 1581.6 309.8 1581.4 310.1 1581.1 310.4 1580.8 310.6 1580.4 310.9 1580.1 311.2 1579.7 311.4 1579.4 311.6 1578.9 311.9 1578.6 312 1578.1 312.2 1577.8 312.3 1577.3 312.5 1576.9 312.6 1576.5 312.7 1576.1 312.7 1575.6 312.8 1575.2 312.8 1574.8 312.8 1574.4 312.8 1573.9 312.7 1573.5 312.7 1573.1 312.6 1572.7 312.5 1572.2 312.3 1571.9 312.2 1571.4 312 1571.1 311.9 1570.6 311.6 1570.3 311.4 1569.9 311.2 1569.6 310.9 1569.2 310.6 1568.9 310.4 1568.6 310.1 1568.4 309.8 1568.1 309.4 1567.8 309.1 1567.6 308.7 1567.4 308.4 1567.1 307.9 1567 307.6 1566.8 307.1 1566.7 306.8 1566.5 306.3 1566.4 305.9 1566.3 305.5 1566.3 305.1 1566.2 304.6 1566.2 304.2 1566.2 303.8 1566.2 303.4 1566.3 302.9 1566.3 302.5 1566.4 302.1 1566.5 301.7 1566.7 301.2 1566.8 300.9 1567 300.4 1567.1 300.1 1567.4 299.6 1567.6 299.3 1567.8 298.9 1568.1 298.6 1568.4 298.2 1568.6 297.9 1568.9 297.6 1569.2 297.4 1569.6 297.1 1569.9 296.8 1570.3 296.6 1570.6 296.4 1571.1 296.1 1571.4 296 1571.9 295.8 1572.2 295.7 1572.7 295.5 1573.1 295.4 1573.5 295.3 1573.9 295.3 1574.4 295.2 1574.8 295.2 1575.2 295.2 1575.6 295.2 1576.1 295.3 1576.5 295.3 1576.9 295.4 1577.3 295.5 1577.8 295.7 1578.1 295.8 1578.6 296 1578.9 296.1 1579.4 296.4 1579.7 296.6 1580.1 296.8 1580.4 297.1 1580.8 297.4 1581.1 297.6 1581.4 297.9 1581.6 298.2 1581.9 298.6 1582.2 298.9 1582.4 299.3 1582.6 299.6 1582.9 300.1 1583 300.4 1583.2 300.9 1583.3 301.2 1583.5 301.7 1583.6 302.1ZM1561.6 384.2 1561.7 384.7 1561.7 385 1561.8 385.5 1561.8 385.8 1561.8 386.2 1561.8 386.5 1561.7 387 1561.7 387.3 1561.6 387.8 1561.5 388 1561.4 388.5 1561.3 388.8 1561.1 389.2 1561 389.5 1560.8 389.9 1560.6 390.1 1560.3 390.5 1560.2 390.8 1559.9 391.1 1559.7 391.3 1559.3 391.7 1559.1 391.9 1558.8 392.2 1558.5 392.3 1558.1 392.6 1557.9 392.8 1557.5 393 1557.2 393.1 1556.8 393.3 1556.5 393.4 1556 393.5 1555.8 393.6 1555.3 393.7 1555 393.7 1554.5 393.8 1554.2 393.8 1553.8 393.8 1553.5 393.8 1553 393.7 1552.7 393.7 1552.2 393.6 1552 393.5 1551.5 393.4 1551.2 393.3 1550.8 393.1 1550.5 393 1550.1 392.8 1549.9 392.6 1549.5 392.3 1549.2 392.2 1548.9 391.9 1548.7 391.7 1548.3 391.3 1548.1 391.1 1547.8 390.8 1547.7 390.5 1547.4 390.1 1547.2 389.9 1547 389.5 1546.9 389.2 1546.7 388.8 1546.6 388.5 1546.5 388 1546.4 387.8 1546.3 387.3 1546.3 387 1546.2 386.5 1546.2 386.2 1546.2 385.8 1546.2 385.5 1546.3 385 1546.3 384.7 1546.4 384.2 1546.5 384 1546.6 383.5 1546.7 383.2 1546.9 382.8 1547 382.5 1547.2 382.1 1547.4 381.9 1547.7 381.5 1547.8 381.2 1548.1 380.9 1548.3 380.7 1548.7 380.3 1548.9 380.1 1549.2 379.8 1549.5 379.7 1549.9 379.4 1550.1 379.2 1550.5 379 1550.8 378.9 1551.2 378.7 1551.5 378.6 1552 378.5 1552.2 378.4 1552.7 378.3 1553 378.3 1553.5 378.2 1553.8 378.2 1554.2 378.2 1554.5 378.2 1555 378.3 1555.3 378.3 1555.8 378.4 1556 378.5 1556.5 378.6 1556.8 378.7 1557.2 378.9 1557.5 379 1557.9 379.2 1558.1 379.4 1558.5 379.7 1558.8 379.8 1559.1 380.1 1559.3 380.3 1559.7 380.7 1559.9 380.9 1560.2 381.2 1560.3 381.5 1560.6 381.9 1560.8 382.1 1561 382.5 1561.1 382.8 1561.3 383.2 1561.4 383.5 1561.5 384 1561.6 384.2ZM1623.8 815.4 1626.1 818.3 1628.7 820.4 1632.6 820.9 1633.1 821 1633.6 821.2 1641 823.8 1641.4 824 1641.8 824.2 1642.2 824.5 1642.6 824.8 1642.9 825.2 1643.2 825.5 1645.3 828.4 1649.6 828.9 1657.3 828.9 1657.8 828.9 1658.3 829 1658.8 829.1 1659.2 829.2 1659.6 829.5 1660.1 829.7 1660.4 830 1660.8 830.3 1661.1 830.7 1661.4 831.1 1661.6 831.5 1661.8 831.9 1662 832.4 1662.1 832.9 1662.7 836.8 1663.3 839.2 1667.1 839.6 1667.3 839.6 1676.7 840.9 1677.1 841 1677.6 841.1 1678 841.3 1678.4 841.5 1678.8 841.8 1679.2 842.1 1679.5 842.4 1679.8 842.8 1680.1 843.1 1680.3 843.5 1680.5 844 1680.6 844.4 1680.7 844.9 1681.1 847.2 1685.9 851.4 1686.2 851.7 1686.5 852.1 1686.8 852.5 1687 852.9 1687.2 853.4 1687.3 853.8 1687.4 854.3 1687.5 854.8 1687.5 855.3 1687.4 855.8 1687.3 856.2 1687.2 856.7 1687 857.1 1686.7 857.5 1681 866.8 1681.1 867.9 1682.7 868.6 1686.5 867.9 1690.2 864.7 1690.6 864.4 1691 864.1 1691.4 863.9 1691.9 863.8 1692.4 863.6 1692.9 863.6 1699.3 862.9 1708.1 861 1714.9 858.7 1717.2 856.8 1717.2 852.3 1717.2 851.9 1717.3 851.4 1717.4 851 1717.5 850.6 1717.7 850.2 1720 845.6 1720.5 840.3 1720 834.3 1717.4 831.3 1707 829 1706.5 828.9 1699 826.4 1692.9 825.8 1692.4 825.7 1692 825.6 1691.6 825.5 1683.6 822.4 1676.8 821.8 1669.2 822.8 1667.7 824.7 1667.4 825 1667.1 825.3 1666.7 825.6 1666.3 825.9 1665.9 826.1 1665.4 826.2 1665 826.4 1664.5 826.4 1664 826.5 1663.6 826.4 1663.1 826.4 1662.6 826.3 1662.2 826.1 1661.7 825.9 1661.3 825.7 1657.7 823.2 1652 820.6 1644.7 821.7 1644.2 821.8 1643.8 821.8 1643.3 821.7 1642.8 821.6 1642.3 821.5 1641.9 821.3 1641.5 821.1 1641.1 820.8 1640.7 820.5 1640.4 820.1 1637.4 816.6 1631.2 815.1 1624.5 814.6 1623.8 815.4ZM1580.1 1042.2 1580.8 1043.5 1584.2 1045.4 1588.9 1046.2 1589.3 1046.2 1589.8 1046.4 1590.2 1046.5 1594.6 1048.6 1595.6 1048.5 1597.4 1046.2 1597.7 1045.9 1598 1045.6 1598.4 1045.3 1598.7 1045 1599.1 1044.8 1599.6 1044.6 1600 1044.5 1600.5 1044.4 1600.9 1044.4 1601.4 1044.4 1612.2 1044.8 1612.5 1044.8 1619.2 1045.5 1621 1044 1622.8 1039.6 1622.8 1034.6 1621 1031.9 1620.8 1031.5 1620.6 1031.2 1620.5 1030.8 1618.4 1024.7 1616 1020.5 1611.1 1018.5 1610.7 1018.3 1610.3 1018.1 1609.9 1017.8 1609.6 1017.6 1609.3 1017.2 1609 1016.9 1608.7 1016.5 1606.7 1013 1602 1011.8 1595.2 1014.8 1589.7 1018.3 1586.8 1024 1586.7 1024.2 1583.2 1030.4 1582.1 1037 1582 1037.5 1581.8 1038 1580.1 1042.2Z" fill="#000004" fill-rule="evenodd"/>
<path d="M729.4 442.1h0M732 445.9h0M734.6 450.5h0M738.9 456.3h0M742.4 458.6h0M746.5 463.7h0M747.5 468h0M748.8 474.7h0M749.3 479h0M750.7 483.5h0M752.7 489.5h0M756.6 494.2h0M761.4 497.9h0M762.9 501.8h0M767.4 507h0M766.8 512h0M767.8 517.2h0M774.3 518.5h0M778.9 520.4h0M784 519.6h0M789.6 518.4h0M793.5 516.2h0M800.2 517.5h0M804 522.4h0M807 527.5h0M813.3 523.7h0M818 523.5h0M823 521.9h0M828 519.4h0M834.2 515.9h0M838.2 513.9h0M843.4 511.7h0M848.1 510.9h0M854.6 510.4h0M858.2 509.1h0M865.1 509.5h0M869.6 512.4h0M875.8 515.5h0M879 517.8h0M883.6 522.5h0M888.8 521.8h0M894.9 522.5h0M899.9 522.3h0M905.1 525h0M910.8 528.6h0M914.7 531.2h0M919.8 532.7h0M925.4 533.6h0M929.8 534.6h0M934.8 533.9h0M941.4 535.4h0M947.3 538.5h0M951.9 536.8h0M958.2 538.3h0M963.4 538.3h0M969.5 539h0M973.3 536.7h0M979.4 534h0M984.7 532.3h0M990.5 531.4h0M995.1 529.2h0M1000.2 526.5h0M1004.6 526.8h0M1009.1 525.6h0M1014.7 523.9h0M1020.7 522.3h0M1026.7 518.9h0M1032.9 519.7h0M1037.1 516.9h0M1041.7 513.5h0M1047.1 510.6h0M1050.6 507h0M1052.6 501.8h0M1056.3 497.7h0M1058.3 492.8h0M1058.7 487.3h0M1060.6 482.3h0M1062.4 476.9h0M1062.2 471h0M1065.2 465.6h0M1062.8 461h0M1063.4 454.2h0M1060.8 449.6h0M1058.3 445.3h0M1058.5 439.4h0M1056.2 434.6h0M1053.1 429.7h0M1053.5 423.6h0M1057.9 419.2h0M1059.7 414.8h0M1064.1 412.3h0M1070.2 411.1h0M1075 410.2h0M1081.5 411.4h0M1086.4 411h0M1090.4 412.9h0M1097.8 411.7h0M1102.9 412h0M1108.6 411.6h0M1113.1 411.7h0M1117.6 409.5h0M1123.9 407.1h0M1130 405.1h0M1132.6 400.4h0M1139.4 399.1h0M1143.9 398.8h0M1147.8 394.6h0M1153.9 393.4h0M1157.8 389.9h0M1158.3 383.5h0M1159.5 378.4h0M1158.3 374.2h0M1158 368.8h0M1152.7 365.1h0M1147.9 362.1h0M1144 359.8h0M1139.1 358.3h0M1135.5 354.6h0M1129.9 352.8h0M1128.8 346.5h0M1132.3 344.4h0M1136.7 340.3h0M1140.9 337.8h0M1145.8 332.2h0M1149.9 329.5h0M1152.6 327.7h0M1161.3 326.1h0M1164.5 323.5h0M1171.5 322.5h0M1175.8 320.4h0M1181 319.3h0M1186.6 317h0M1190.5 315.4h0M1195.5 313.5h0M1193.1 308.4h0M1189.1 306.6h0M1185.1 309.8h0M1178 310.3h0M1173.2 308.7h0M1168.3 312.8h0M1164.5 316.1h0M1160.5 320.8h0M1156.6 323.4h0M1150.5 326.3h0M1144.9 326.8h0M1138.8 330.3h0M1135.9 331.8h0M1130.5 333.2h0M1125 334.9h0M1119.6 337.1h0M1115.8 339.6h0M1109.4 340.7h0M1103.9 344.5h0M1099.7 345.3h0M1093.9 346.4h0M1089 350h0M1083.5 350.8h0M1078.3 352.6h0M1072 353.9h0M1067.3 356.4h0M1062.1 357.7h0M1058.5 357.3h0M1051.3 357.1h0M1046.3 355.5h0M1041.2 357.3h0M1035.2 354.9h0M1029.3 354.1h0M1027.2 348h0M1029.2 342.7h0M1029.1 339.1h0M1030 333.1h0M1033.3 327.4h0M1032.8 321.1h0M1034.6 318.1h0M1037.2 311h0M1040.3 308.3h0M1045.9 305.6h0M1050.3 302.9h0M1054.2 299.3h0M1057.1 294.3h0M1060 291.1h0M1064.5 286.4h0M1067.2 283.5h0M1071.5 278.8h0M1078.7 278.9h0M1082.7 279.7h0M1087.5 281.6h0M1088 278.4h0M1087.5 270.5h0M1086.7 265.6h0M1087.9 259.2h0M1086.4 254.2h0M1084.3 251.3h0M1081.9 245.1h0M1079.1 240.4h0M1074.5 236.3h0M1069.9 231.6h0M1067.4 229h0M1062.6 226.5h0M1056.2 222.7h0M1052.5 222h0M1046.8 220.9h0M1042 217.5h0M1035.8 217.7h0M1031.6 214h0M1027 214.5h0M1021.6 213.7h0M1014.8 213.7h0M1011.6 215.1h0M1005.4 215.4h0M998.8 215.4h0M992.9 218.2h0M986.7 219h0M982.5 218h0M976.4 219.2h0M971.4 220.2h0M965.3 221.4h0M959.8 221.7h0M955.2 224.6h0M948.6 224.9h0M943.9 225h0M939.6 226.3h0M934.7 227h0M928.4 228.3h0M922.1 229.9h0M917.2 231.3h0M912.1 231.6h0M906.8 234.1h0M902.3 235h0M896.3 235.9h0M891.6 238.1h0M884.4 240.8h0M881.7 241.6h0M874.8 244.3h0M869.6 247.3h0M864.8 248.4h0M861.1 251.1h0M856.3 253.8h0M850.3 255.9h0M848 259.9h0M842 263h0M838.8 267.5h0M837.3 271.3h0M831.6 276h0M828.6 281.9h0M827.1 285h0M822.1 289.9h0M821.2 292.4h0M817.3 298.3h0M814.5 302.8h0M810.2 306.9h0M807.4 314.2h0M807.1 318h0M804 322h0M801.6 328.2h0M798.8 332.8h0M794.9 337.4h0M792.7 343h0M791.2 346.5h0M786 351.1h0M783.1 355.2h0M780.5 359.5h0M777.5 364.4h0M772.6 367.3h0M767.3 369.8h0M763.2 373.3h0M760.9 378.5h0M756.8 383.3h0M754.1 387.6h0M752.7 391.4h0M751 398.3h0M748.5 402.8h0M745 406.8h0M741.8 411.5h0M738.8 415.4h0M735.6 420.9h0M733.4 425.5h0M732.6 429.9h0M731.2 436.7h0M377.6 449.9h0M374 453.4h0M370 456.6h0M365.1 458.7h0M359.5 461.8h0M356.5 465.8h0M353.4 469.5h0M350.6 476h0M349.3 479.2h0M345.6 485.3h0M343.7 490.2h0M341.5 494h0M342 499.7h0M340.8 506.5h0M340.5 512.1h0M336.9 516.7h0M332.7 520.7h0M330.6 523.9h0M326.4 528.9h0M326.6 535.8h0M324.6 540.5h0M324.7 546.6h0M322.5 550.9h0M323.7 557.1h0M324 562.1h0M324.1 565.9h0M326.3 574h0M324.3 578.4h0M321.1 585.2h0M319.2 588.4h0M315.9 593.6h0M318.6 598.7h0M322.6 600.7h0M328.6 603.3h0M334.1 605h0M337.8 604.9h0M344.9 604.4h0M349.3 605.6h0M355.5 605h0M360.9 605.6h0M366.8 606.2h0M371.2 605.3h0M377 605.4h0M383.1 603.6h0M387.9 602.9h0M394.3 601.8h0M399.4 604.7h0M402.4 608.4h0M405.3 612.2h0M411 615.5h0M415.3 618.1h0M419.1 621.3h0M424.9 624.8h0M427.3 626.1h0M435.9 628.2h0M440.6 629.6h0M445.1 631h0M451 632.2h0M455.2 635.2h0M460 636.8h0M465.2 638.5h0M471.7 639.2h0M476.3 637.9h0M480.4 636.1h0M485.4 633.5h0M483.7 627h0M484.1 623.1h0M484.3 617.3h0M487.5 611.7h0M486.4 605.3h0M487 602.3h0M485.8 596.2h0M486.7 588.6h0M484.2 585.2h0M487.6 579.7h0M491.8 577.3h0M494.2 574.8h0M494.7 566h0M496.6 563h0M497.1 556.5h0M497.8 551h0M498.6 544.9h0M495.2 540.7h0M494.7 536.5h0M489 535.3h0M483.3 530.6h0M479.1 528.3h0M473.8 527.9h0M467.3 526.9h0M463.9 526.9h0M456.6 528.3h0M451.4 527h0M449.7 522.9h0M446 518.2h0M442.5 512.9h0M439.8 509.4h0M436.8 504.4h0M432.9 500.7h0M430.9 494.9h0M428.3 489.5h0M426.3 483.3h0M424.2 481.3h0M422.7 475.8h0M419.7 470.4h0M418.3 464.6h0M417 456.8h0M415.5 454.9h0M411.2 450.3h0M406 449.6h0M398.3 447h0M394.6 447.6h0M389 448.2h0M384.7 447.9h0M376.5 537.9h0M378.4 533h0M381.3 527.2h0M383.5 524.1h0M387.5 520.5h0M392.9 517.9h0M398.9 517.4h0M404.4 515.7h0M406.8 514h0M414 514.7h0M418.4 518.1h0M422.1 520.1h0M428.2 524h0M430.6 529.6h0M433.8 532.8h0M435.6 537.1h0M437.9 543.7h0M439.1 549.5h0M443.5 553.9h0M440 559.5h0M436 563.7h0M433.4 566.4h0M429.3 571.7h0M426.9 575.9h0M421.3 576.3h0M414.1 579.2h0M411.7 578.8h0M404 579.4h0M398 576.8h0M392.4 575.8h0M388.4 573.6h0M382.4 571.1h0M378.6 569.1h0M375.6 564.7h0M371.9 559.3h0M371 554h0M374 547.4h0M376.1 544.4h0M609.7 873.4h0M610.5 880h0M612.3 884.6h0M613 889.9h0M613 896.6h0M612.3 902.5h0M612.3 907.4h0M612.5 911.6h0M612.6 916.6h0M613.7 923h0M615.5 928.4h0M613.4 934.1h0M612.2 939.8h0M610.1 943.5h0M608.4 950.9h0M609.3 955.1h0M610 961.7h0M614.1 965.7h0M618.4 968.2h0M624 972h0M626.9 974.2h0M632.9 974.9h0M638.9 978.1h0M644 978.2h0M649.1 981.2h0M655 982h0M659.9 985.8h0M664.3 985.8h0M669.5 986.8h0M674.7 991.1h0M679.4 991.6h0M685.8 995.1h0M689.7 997.3h0M694.2 999.9h0M700.2 998.8h0M705.8 996h0M710.4 994.4h0M714 991h0M718.8 987.8h0M723 983.7h0M727 981.9h0M732.1 977.3h0M735.8 974h0M740 971h0M745.4 968.1h0M750 965.6h0M753.3 963.7h0M759.4 961.7h0M764.4 962.1h0M772.1 962.1h0M775.5 959.7h0M779.8 957h0M785 952.7h0M789.4 953.8h0M794.9 948h0M799.5 944.3h0M803.6 942.7h0M806.9 938.3h0M812.6 936h0M817.9 935.1h0M824.4 933.8h0M829.8 933.1h0M833.9 931.4h0M839.5 930.7h0M844.9 928.9h0M851.9 927.9h0M854.8 927h0M861.7 925.4h0M866.7 925h0M871.4 922h0M876.3 920.3h0M881.9 917.3h0M887.4 919.3h0M891.7 916.8h0M898.8 916.8h0M905.5 916.1h0M908.4 915.8h0M915.7 915.8h0M920.7 914.3h0M926.7 911.6h0M931.3 913h0M935.6 911.1h0M942.7 910.4h0M947 909.3h0M952.8 907.2h0M953.5 903.2h0M950.3 900.9h0M945.6 893.8h0M944.5 891.1h0M937.3 887.2h0M935.2 884.9h0M929.7 880h0M927.1 878.5h0M920.5 875.5h0M915.1 874.4h0M911 871.8h0M908.4 866h0M904.2 862.9h0M900.9 859.5h0M897.4 854.9h0M892.7 850.7h0M887.7 853.5h0M883.9 855.2h0M878.3 856.8h0M872.7 857.8h0M870.4 851.4h0M869.8 847.1h0M864.9 843h0M859.7 841.8h0M854.9 838.1h0M850.7 838.9h0M847.6 841.1h0M842.3 843.2h0M835.7 840.4h0M835.3 836.5h0M830.6 832.9h0M825.4 829.1h0M820.3 829.4h0M815.7 827.5h0M808.3 828h0M804.5 829.8h0M798.9 831.4h0M793.4 831h0M787.4 834.6h0M784 834.6h0M778.9 836.2h0M772.5 836.1h0M766.8 837.1h0M762.4 834.1h0M758.1 833.2h0M751.7 830h0M745.9 828.3h0M741.1 827h0M736.5 827.8h0M731.8 828.3h0M725.2 830.1h0M720.1 831.2h0M714.6 831.7h0M709.9 833.7h0M704.7 834.5h0M698.3 832h0M692.8 831.2h0M686.1 832.1h0M682.6 831.4h0M676.6 828.5h0M672 826.4h0M667.2 824.9h0M660.9 824.5h0M653.8 823.3h0M649.4 824.7h0M645.1 824.4h0M640.2 826.1h0M636.1 828.5h0M628.9 831.8h0M627.9 836h0M624.4 841.4h0M622.3 845.7h0M618.5 849.4h0M614.9 852h0M612.5 858.4h0M610.6 862.6h0M610.3 868.9h0M792.3 846.1h0M798.1 848.8h0M802.8 850.2h0M809 853h0M815.3 854.9h0M818.7 859.9h0M817 864.5h0M813.4 867.7h0M809.1 867.8h0M801.9 866.3h0M796.7 867.5h0M791.1 866.4h0M785.2 865.5h0M781 861.3h0M777.6 858.7h0M772 855.8h0M769.1 851.4h0M767.7 845.9h0M771.9 841.6h0M776.8 843.2h0M781.8 843.5h0M787.9 844.2h0M798.6 890h0M804.5 893.1h0M805.9 897.6h0M809.5 903.6h0M806.6 907.6h0M800.6 908.6h0M792.2 908.1h0M788.9 905h0M787.2 898.4h0M784.4 894h0M787.8 889.6h0M793.4 890.6h0M889.9 788.2h0M886.1 791.6h0M884.1 794.7h0M878.4 800h0M876 804.8h0M872.3 809.2h0M868 812.9h0M867.8 818h0M867.7 818.1h0M871.7 814.2h0M877.1 814.4h0M881.3 817h0M883.9 822.1h0M883.1 826.7h0M889.9 824.9h0M891.2 820.6h0M894.6 816.3h0M893.5 809.9h0M896.2 805.7h0M898.3 800h0M901 796h0M905.3 790.2h0M906.6 786.1h0M907.3 781.2h0M901.7 779.4h0M896.2 777.5h0M893.9 782.2h0M1012.8 1103.9h0M1013.5 1109h0M1015 1115.5h0M1015.5 1119.3h0M1017.4 1126.2h0M1017.9 1131.3h0M1020 1136.7h0M1019.9 1141.7h0M1023.4 1146.8h0M1025.5 1151.4h0M1026.8 1156.4h0M1031.4 1161.8h0M1030.7 1167.4h0M1032.2 1172.1h0M1030.3 1177.2h0M1031.3 1183.6h0M1033.5 1188.4h0M1033.2 1195.1h0M1036.6 1198.8h0M1040.8 1202.4h0M1044.3 1205.6h0M1049.2 1206.3h0M1053.6 1208.2h0M1058.4 1204.8h0M1063.4 1201.1h0M1068.2 1199.7h0M1072.8 1200.7h0M1078.9 1200.5h0M1084.9 1197.2h0M1088.9 1194h0M1095.7 1194.5h0M1102.7 1193.6h0M1105.4 1189.4h0M1108.9 1188.2h0M1115.5 1185.6h0M1121.5 1186.3h0M1125.5 1184.2h0M1130.6 1184.1h0M1136.4 1181.2h0M1140.8 1179.7h0M1146.2 1179.5h0M1153.2 1175.8h0M1157.2 1174.9h0M1163.2 1172.3h0M1169.6 1172.8h0M1175.6 1169.1h0M1178.2 1171h0M1185 1169h0M1189 1167.7h0M1194.7 1166.4h0M1201.3 1164.5h0M1204.2 1162.6h0M1212.4 1162.4h0M1217.3 1160.4h0M1221.1 1159.3h0M1228.6 1158.7h0M1233 1159.1h0M1238.2 1159.8h0M1243.8 1160.8h0M1247.6 1159.5h0M1254.4 1158.7h0M1260.6 1157.8h0M1265.7 1155.4h0M1270.8 1153.2h0M1274.5 1152.5h0M1280.4 1149.3h0M1286.3 1149.4h0M1291.4 1147.7h0M1296.8 1145.8h0M1300.7 1142h0M1306.3 1139.3h0M1311.4 1139.4h0M1316.7 1137.2h0M1321 1133.7h0M1325.2 1132.3h0M1328.6 1126h0M1334.5 1124.1h0M1336.1 1118.6h0M1337.7 1113.3h0M1338.5 1108h0M1335.7 1103.4h0M1333.2 1098.5h0M1329.9 1093h0M1327.9 1088.3h0M1325 1084.7h0M1320.1 1079.7h0M1316.2 1077.8h0M1309.9 1074.3h0M1307.6 1070h0M1302.5 1065.7h0M1299.8 1062.6h0M1296.1 1059.9h0M1293.2 1053.9h0M1289 1049.3h0M1288.1 1043.7h0M1288 1038.8h0M1288.5 1033.8h0M1285.2 1027.5h0M1282.6 1023.9h0M1279.3 1020.6h0M1275 1018.9h0M1271.7 1012h0M1268.4 1007.5h0M1265.8 1005h0M1259.5 999.8h0M1257.6 997.6h0M1251.4 995h0M1248.3 993.3h0M1243.3 990.3h0M1235.8 989.5h0M1230.3 988.3h0M1225 987.8h0M1219.4 988.4h0M1215.6 991.2h0M1209.3 991.1h0M1205.9 994.4h0M1201.5 999.7h0M1197.3 1000.8h0M1193.4 1006.2h0M1187.3 1008h0M1184.3 1011.6h0M1178.2 1012h0M1173.1 1011.7h0M1168.5 1007.8h0M1162.3 1005.7h0M1157.9 1003.4h0M1152.3 1002.6h0M1144.8 1002.5h0M1141.2 1000.8h0M1135.2 999.5h0M1129.9 1001h0M1127.4 1003.5h0M1122.3 1007.5h0M1118.9 1011.1h0M1114.1 1014.9h0M1111.3 1019.3h0M1107.3 1024.7h0M1104.5 1028.7h0M1099.5 1032.5h0M1096.2 1035.3h0M1091.5 1038.7h0M1087.6 1043h0M1083.7 1048.1h0M1080 1050.2h0M1075.3 1052.9h0M1070.6 1057.5h0M1065.8 1062.1h0M1064.2 1063.2h0M1060.3 1069.5h0M1056.6 1073.3h0M1053.4 1076.2h0M1047.2 1080.6h0M1043.1 1082.1h0M1039.1 1087h0M1033 1088.1h0M1028.7 1087.7h0M1022.2 1090.3h0M1018.2 1093.4h0M1014.2 1098.9h0M1230.9 1027.5h0M1230.7 1023.9h0M1235.2 1022.1h0M1239.4 1023.9h0M1243.9 1024.3h0M1250.7 1027.4h0M1254.7 1027.1h0M1261.2 1031.4h0M1265.4 1035.1h0M1267.8 1040.1h0M1273.5 1043.4h0M1274.7 1048.8h0M1269.2 1050.6h0M1260.2 1048.3h0M1254.9 1047.5h0M1253 1043.8h0M1247.8 1041.8h0M1243.2 1039.3h0M1236.8 1036.5h0M1232.7 1033.8h0M1057.2 1098.8h0M1057.6 1093.6h0M1061.4 1090.9h0M1065.2 1088.2h0M1070.3 1085.9h0M1074.6 1082h0M1081.5 1081.6h0M1086.5 1080h0M1092.2 1078.3h0M1097.1 1075.2h0M1094.8 1074.4h0M1087.9 1075.4h0M1084.4 1073.5h0M1080.6 1071.1h0M1077.1 1066h0M1074.9 1060.4h0M1078.8 1057.4h0M1083.4 1054h0M1088.7 1052.4h0M1093.1 1050.7h0M1099.7 1048.7h0M1107.1 1048.4h0M1108.4 1053h0M1111.3 1059.7h0M1110.6 1063.3h0M1104.7 1067.6h0M1101 1070.7h0M1106.5 1067.7h0M1111.9 1070.4h0M1115.5 1074.6h0M1119 1079.6h0M1123.2 1082.8h0M1126.7 1086.5h0M1130.7 1090.6h0M1134.7 1092.9h0M1142.6 1092.9h0M1148.2 1095.2h0M1149.6 1097h0M1155.8 1099.7h0M1160.5 1101.4h0M1168.2 1101.6h0M1173.2 1103.4h0M1179.8 1104.1h0M1184.1 1106.6h0M1188.1 1108.9h0M1189.7 1115.1h0M1189.5 1119.6h0M1192.6 1125.4h0M1194.4 1131.7h0M1196.7 1134.6h0M1198.7 1140.4h0M1193.9 1146.2h0M1189.1 1145.9h0M1184.7 1149.6h0M1179.4 1149.8h0M1174.1 1150.8h0M1168.7 1150.7h0M1161.6 1150.5h0M1156.2 1153.4h0M1151.6 1152.5h0M1147 1153.6h0M1141 1153.5h0M1134.8 1152.8h0M1129.7 1153.3h0M1124.3 1152.8h0M1117.3 1150.3h0M1113.6 1149.7h0M1109.2 1145.6h0M1109.3 1148.1h0M1110.6 1154.1h0M1107.5 1159.1h0M1103.9 1163.2h0M1099.8 1165.8h0M1094.6 1162.8h0M1090.2 1160.5h0M1089.4 1153.5h0M1086.3 1149.1h0M1085.1 1141.6h0M1084 1136.8h0M1086.8 1133h0M1090.1 1129.6h0M1094.7 1131.6h0M1098.4 1133.2h0M1098.9 1133.4h0M1094.8 1128.6h0M1092.5 1124.4h0M1086.6 1122h0M1083.1 1120.4h0M1075.6 1120.6h0M1071.4 1120.4h0M1067 1118.2h0M1060.2 1117.5h0M1055.9 1116.9h0M1051.9 1112.5h0M1055.4 1108.4h0M1057.6 1105.3h0M1111.3 1041.2h0M1113.1 1036.8h0M1118.2 1038h0M1123.1 1042.7h0M1125.4 1046.6h0M1120.7 1051.4h0M1118.5 1055.4h0M1112.1 1054.4h0M1108.9 1048.4h0M1173.9 744.6h0M1177.2 749.6h0M1180.2 753.5h0M1181.3 759.1h0M1184.2 763.3h0M1187.1 767.9h0M1187.3 773.7h0M1192.1 776.6h0M1197 777.8h0M1203.7 777.2h0M1207.1 780.2h0M1212.4 782.7h0M1219.5 783.3h0M1225.5 785.1h0M1228.9 786.8h0M1234.6 789.2h0M1239.8 789.5h0M1244.5 790.4h0M1249.1 793.6h0M1255 795.2h0M1260.3 797.1h0M1265.2 799h0M1271.4 798.7h0M1275.3 796.4h0M1279.7 799.7h0M1283.7 801.6h0M1288.9 802.2h0M1295.5 800.9h0M1300.1 799.2h0M1305.4 797.8h0M1310.6 799.5h0M1317.8 802.4h0M1322.3 799.7h0M1327.1 800.8h0M1331 799.4h0M1336.5 796.2h0M1342.5 793.6h0M1347.4 792.8h0M1353.6 795.5h0M1358.9 796.3h0M1360.8 798.2h0M1365.9 803.5h0M1369.2 807.5h0M1364.7 812.3h0M1366 816.5h0M1371.8 814.8h0M1374.5 813.1h0M1379.2 811.4h0M1388.3 809.8h0M1390 806.4h0M1390.7 799.8h0M1393.2 793.6h0M1390.3 789.7h0M1389.1 783.6h0M1389.3 779.1h0M1389.8 772.5h0M1390.2 767.6h0M1389.1 761.3h0M1388 756.5h0M1385.8 752.7h0M1385.6 746.3h0M1384.7 741.9h0M1383.4 735h0M1381.3 729.7h0M1379.5 725.2h0M1378.9 718.8h0M1376.5 714.9h0M1373 711.8h0M1372.6 705.1h0M1372 699h0M1371.1 693.5h0M1368.1 689.5h0M1366.7 685.4h0M1363.3 677.3h0M1358.8 674.6h0M1356.1 668.4h0M1356.1 663.1h0M1352.6 659.2h0M1353 654.6h0M1348.8 649.5h0M1346.6 644.1h0M1341.6 638.6h0M1340.5 635.6h0M1336.3 629.3h0M1331.7 632.6h0M1326.9 631.4h0M1322.6 636.7h0M1319.5 641.7h0M1318.3 646.3h0M1323.6 645.4h0M1328.6 644.5h0M1334.8 645.6h0M1337.4 650.8h0M1337.5 654.8h0M1335.1 661.4h0M1332.7 661.7h0M1326.2 660.8h0M1320.3 662.5h0M1315.1 659.3h0M1312.2 655.8h0M1310.8 652.1h0M1306.4 650.6h0M1302 651.1h0M1296.3 653.4h0M1292.1 658.2h0M1287 659.8h0M1280.8 660.4h0M1277.2 663.2h0M1270.6 664.7h0M1265 665h0M1260.7 667.6h0M1255.8 672.1h0M1250.9 672.7h0M1247.3 674.3h0M1240.4 676.6h0M1235.4 681h0M1228.8 682.3h0M1224.4 682.5h0M1220.4 686.1h0M1215.5 687.9h0M1211.7 690.8h0M1209 697.7h0M1210.1 700.5h0M1214.2 703.6h0M1217.1 710.3h0M1220.7 714.8h0M1217.8 719.1h0M1214.1 724.4h0M1210.6 726.8h0M1205.6 729.7h0M1200.9 725.2h0M1199.3 719.8h0M1195.5 714.7h0M1192.2 717.8h0M1187.4 721.6h0M1184.2 725.8h0M1182.1 730.9h0M1179.5 735.7h0M1177.8 741.4h0M1486.5 313.2h0M1488 318.4h0M1492 322.8h0M1496 325.7h0M1500.7 327.1h0M1505.8 328.6h0M1510.4 333.5h0M1514.3 338.6h0M1516.9 342.8h0M1518.6 348.6h0M1521.4 352.3h0M1524.3 358.8h0M1527.1 363.3h0M1531.2 368.4h0M1530.5 373.2h0M1530.6 378.3h0M1533.5 384.4h0M1532 388.9h0M1530.1 396.3h0M1527.6 398h0M1528.2 403.9h0M1529.3 406h0M1534.7 406.6h0M1541 407.3h0M1544.3 410.2h0M1548.1 416.4h0M1552.3 421.1h0M1551.3 425.1h0M1553.9 430.1h0M1553.4 434.9h0M1555.4 441h0M1556 446h0M1556.1 451.9h0M1554.3 457.1h0M1553.7 463.9h0M1554.7 468.4h0M1553.9 476.1h0M1555.7 481.2h0M1556.1 485.6h0M1556.4 492.3h0M1558.8 496.8h0M1558 502.7h0M1559.4 507.3h0M1555.5 511.4h0M1553.3 515.6h0M1548 519.6h0M1544.2 524.8h0M1542 529.4h0M1540.1 533.5h0M1536 537.7h0M1533.6 543.2h0M1534.9 548.6h0M1536.8 552.4h0M1541.7 553.1h0M1545.9 557.9h0M1551.8 559.9h0M1554.9 565.2h0M1557.4 568.5h0M1560.4 573h0M1565.4 578.1h0M1567.8 582.8h0M1572 583.9h0M1576.3 587.1h0M1583 590.2h0M1586.5 592.9h0M1591.5 595.3h0M1598.1 595.3h0M1604.1 596.3h0M1608.5 598.4h0M1614.2 599.1h0M1619 597.5h0M1623.3 595h0M1629.8 595.4h0M1634.7 594.1h0M1641.2 590.4h0M1645.8 591.5h0M1650.7 588.1h0M1655.8 586.3h0M1658.3 583.1h0M1664.5 580.1h0M1668.8 576.4h0M1674.1 574h0M1677.9 570h0M1680.8 565.5h0M1685.5 562.8h0M1688.1 557.2h0M1688.7 552.2h0M1688.5 546.9h0M1688.3 542h0M1687.9 535.1h0M1686.6 530.2h0M1685.4 525.4h0M1681.7 519.9h0M1676.7 516.1h0M1673.1 513.4h0M1669.4 508.1h0M1667.4 505h0M1662.9 499.1h0M1662.1 493.3h0M1660.8 487.4h0M1659 483h0M1657.7 478.6h0M1658.2 472.2h0M1657.2 468.8h0M1653.6 462.1h0M1654.2 457.8h0M1653.2 450.9h0M1651.4 446.4h0M1651.2 440.5h0M1651.8 434.1h0M1653.6 429.3h0M1653.5 424.6h0M1652 417.7h0M1650 412.8h0M1649.7 406.3h0M1650.4 403.7h0M1647.8 396.6h0M1645.7 390.3h0M1644.9 385.7h0M1643.7 381.2h0M1643.6 375h0M1640.8 369.5h0M1639.5 363.5h0M1639.1 359.4h0M1634.8 353.9h0M1634.7 349.3h0M1631.2 344.1h0M1629.9 338h0M1627.3 332.7h0M1623.8 328h0M1621.9 325.1h0M1617.9 319.8h0M1616.8 313.5h0M1613.1 310.2h0M1611.1 304.5h0M1606.6 299.3h0M1606.1 294.9h0M1600.7 292.3h0M1596.6 289h0M1591.5 286.8h0M1585.3 284.9h0M1581.5 283.6h0M1574.9 281.5h0M1569 279.7h0M1563 279.6h0M1559.3 278h0M1555.9 277h0M1549.1 274.9h0M1542.8 274.3h0M1537.9 274.5h0M1532.1 277h0M1527.8 278.6h0M1522.6 282.2h0M1517.5 284.8h0M1512.5 286.5h0M1508 290h0M1503.5 292.2h0M1499 294.5h0M1495.4 298.2h0M1492.8 303.2h0M1488.5 308.1h0M1683 526.7h0M1681.2 534.6h0M1677 536.7h0M1671.8 538.1h0M1666.7 531.4h0M1667.4 525.3h0M1673.1 524.1h0M1678.1 524.9h0M1648 481.8h0M1647 488.3h0M1642.9 491.5h0M1637.4 491.9h0M1633.2 488.3h0M1631.1 483.5h0M1634.4 477.9h0M1638 475.6h0M1644.4 476.5h0M1615.3 397.4h0M1613.4 402.8h0M1611.5 407.4h0M1604.4 407.9h0M1599 405.6h0M1600.2 398.8h0M1602.2 393.4h0M1606.8 391.5h0M1612.1 393.8h0M1603.1 512.5h0M1602.6 517.9h0M1600.2 523h0M1592.4 522.4h0M1590.2 518.5h0M1588.8 512.3h0M1590.3 509.7h0M1596.2 506.4h0M1600.9 507.2h0M1599.8 475.2h0M1599.7 480.2h0M1593.5 485h0M1587.4 485.4h0M1585.1 482.9h0M1581.8 475.7h0M1586 470.6h0M1590.9 467.4h0M1595.9 470.9h0M1584 442.2h0M1584.3 447.1h0M1580.1 451.6h0M1576 453.6h0M1570.9 453h0M1565.5 448.8h0M1566 443.8h0M1566.9 437.1h0M1571.6 435h0M1577.9 434.3h0M1581.9 437.3h0M1584.7 302.8h0M1584.6 307.1h0M1580.3 311.7h0M1575.4 312.4h0M1569.8 311.2h0M1565.7 306h0M1566.8 300.2h0M1570 295.3h0M1576.1 295.3h0M1580.9 297.3h0M1561.9 383.7h0M1559.9 390.4h0M1556 394h0M1550.2 391.7h0M1545.5 387.2h0M1548.8 382.3h0M1551.4 379.2h0M1558.7 379h0M1623.1 816h0M1627.5 818.9h0M1633.5 821.5h0M1638.5 822.7h0M1642.6 822.3h0M1646.3 828.3h0M1652.9 830.8h0M1657.7 830.9h0M1661.7 832.9h0M1663.8 835.9h0M1668.4 838.6h0M1672.3 839.5h0M1677.3 840.2h0M1680.5 846.8h0M1683 850.6h0M1687.7 854.6h0M1686.1 859.8h0M1683.4 862.9h0M1680.7 869.1h0M1687.5 868.7h0M1691.5 863.7h0M1696.1 861.5h0M1702.6 863.5h0M1707.6 861.7h0M1713.7 858h0M1717.4 855.3h0M1717.6 851.2h0M1719.7 845.7h0M1721.4 842h0M1719.2 834.4h0M1715.7 830.2h0M1711.3 829.4h0M1706.5 829.5h0M1700.2 825.9h0M1694.9 825.9h0M1689 825.7h0M1684.2 821.8h0M1679.4 820.8h0M1674.3 822.1h0M1669.6 823.9h0M1662.6 825.9h0M1659.2 823.6h0M1653.8 822h0M1647.5 820.7h0M1642.3 821.7h0M1639.5 818.3h0M1633.5 815.4h0M1628.5 815.2h0M1580.4 1042.5h0M1584.9 1044.6h0M1588.9 1045.1h0M1595.6 1048.6h0M1598.1 1045.4h0M1604 1044h0M1609.1 1044.8h0M1615.7 1045.2h0M1620.4 1044.1h0M1622.6 1039h0M1620.1 1033.4h0M1619.4 1029.1h0M1617.5 1023.5h0M1613.9 1019h0M1608 1016.8h0M1606.3 1013h0M1601.9 1013.4h0M1595.9 1014.6h0M1590.7 1017.3h0M1587.1 1021.2h0M1585.4 1027h0M1582.4 1031.1h0M1582.7 1036.8h0M1308.7 409.5h0M1302.5 418.5h0M1305.3 421.2h0M1315 413h0M1321.9 417.1h0M1322.6 419.2h0M1368.8 451.6h0M1373 447.5h0M1377.1 442h0M1384 437.8h0M1390.9 426.8h0M1399.2 422.6h0M1406.1 424h0M1408.9 429.5h0M1415.8 430.9h0M1396.4 436.4h0M1403.3 436.4h0M1389.5 442h0M1393.7 430.9h0M1400.6 429.5h0M1431 436.4h0M1439.3 442h0M1446.2 446.1h0M1455.8 450.2h0M1462.7 446.1h0M1465.5 453h0M1472.4 459.9h0M1477.9 450.2h0M1480.7 464.1h0M1486.2 467.5h0M1436.5 440.6h0M1460 451.6h0M1468.3 457.1h0M1476.5 461.3h0M1227.3 493.1h0M1230.7 500h0M1234.9 504.1h0M1239 494.4h0M1243.1 495.8h0M1241.8 504.1h0M1248.7 505.5h0M1259.7 496.5h0M1261.1 500.6h0M1263.9 509.6h0M1263.2 515.1h0M1276.3 513.8h0M1274.9 524.8h0M1284.6 531.7h0M1291.5 527.6h0M1287.3 519.3h0M1237.6 501.3h0M1245.9 502.7h0M311 736.3h0M302 748h0M306 741h0M1097 303h0M1207 327h0M1090 433h0M1072.6 433.7h0M1065.6 425.8h0M1050 320h0M1070 320h0M1090 333h0M1040 343h0M1225 494h0M852.2 812.7h0M881.5 829.2h0M865 854.8h0M883.3 854.8h0M429.6 460.7h0M392.8 554.2h0M385.1 559.6h0M422.7 558.1h0M1093.3 338.3h0M1086.7 345h0M1066.7 321h0M1105.9 1114.1h0M1121.5 1122.7h0M1133.6 1121.9h0M1088.5 1125.3h0M1100.7 1130.5h0M1105.9 1137.5h0M1111.1 1144.4h0M1123.2 1140.9h0M1120.6 1099.3h0M1100.7 1095h0M1104.1 1085.5h0M1138.8 1096.7h0M1144 1101.9h0M1152.7 1108h0M1156.1 1114.1h0M1164.8 1116.7h0M1155.3 1133.1h0M1163.1 1125.3h0M1171.7 1124.5h0M1182.1 1127.1h0M1135.3 1134h0M1139.7 1140.9h0M1152.7 1146.1h0M1187.3 1145.3h0M1064.3 1114.9h0M1071.2 1114.9h0M1175.2 1106.3h0M1126.7 1095.9h0M1116.3 1092.4h0M1145.7 1127.9h0M1178.7 1125.3h0M1086.8 1059.5h0M1098.9 1060.3h0M1104.1 1134h0M1109.3 1141.8h0M1102.4 1156.5h0M1069.2 1089.6h0M1076.4 1091.4h0M1083.6 1086h0M1099.8 1086h0M1107 1093.2h0M1116 1086h0M1123.2 1078.8h0M1130.4 1075.2h0M1134 1084.2h0M1090.8 1096.8h0M1067.4 1114.8h0M1074.6 1113h0M895.5 776.6h0M903.6 778h0M910.9 783.2h0M887.5 788.3h0M878.7 794.2h0M871.3 799.3h0M865.5 804.5h0M896.3 808.1h0M874.3 808.1h0M869.9 816.9h0M880.1 814h0M893.3 818.4h0M891.9 824.3h0M864 823.5h0M880.9 829.4h0M851.5 813.3h0M885 800h0M890 795h0M900 800h0M905 792h0M882 806h0M876 820h0M893 812h0" stroke="#000004" stroke-width="10.6" stroke-linecap="round" fill="none"/>
<path d="M981.5 219.7h0M993.5 221.4h0M1024.7 219h0M951.4 225.2h0M974.5 223.8h0M1009.4 226.7h0M1058.8 223.8h0M941.9 232.1h0M1012.7 230.5h0M1030 230.5h0M1062.3 229.2h0M911.5 236.9h0M923.6 236.8h0M952.3 237.8h0M980.8 236.1h0M1007.2 235.3h0M1029.8 237.2h0M1053.6 235.7h0M1073.5 237.2h0M915.7 240h0M928.5 239.7h0M945.8 239.6h0M979.8 239.9h0M984.3 240.4h0M1039.4 243.2h0M1056.7 241.2h0M1065.6 240.8h0M936.5 246.4h0M945.2 245.7h0M950.5 246.6h0M968.8 249.4h0M1000.4 247.2h0M1013.3 247.4h0M1053.7 246.1h0M861.5 252.3h0M888.8 253.8h0M897.2 253h0M946.2 254.4h0M975 251.4h0M1005.7 251.8h0M860 260.3h0M879 259.5h0M912.1 257.4h0M925.5 258.4h0M1036.1 257.7h0M1054.3 259.1h0M854.2 263.1h0M876.6 265.7h0M880.3 264.1h0M915.2 262.4h0M936.1 266h0M939.7 263.8h0M945.8 265.9h0M952.3 265.4h0M978.8 262.7h0M1076.9 264.9h0M851.7 270.9h0M866.5 271h0M938 269.1h0M982.6 269.5h0M1003.6 271.9h0M1034.8 271.6h0M1060.9 268.7h0M1074.1 269.8h0M1079.4 271.9h0M844.1 277h0M849.6 276h0M868.8 274.8h0M874.4 275.2h0M883.6 277.6h0M896 274.7h0M900.6 276.4h0M909.8 275.8h0M949.1 275.9h0M960.1 273.6h0M867 283.3h0M874.6 281.1h0M930.9 280.3h0M1048.2 280.5h0M1068 280.4h0M851.5 285.5h0M874.5 285.5h0M886.7 285.4h0M921.8 287.6h0M949.2 288.5h0M954.9 288.2h0M1046.5 284.7h0M833.2 293.3h0M874.5 293h0M919.6 291.1h0M925.8 291.4h0M1004.2 293.6h0M1041.6 292.6h0M837.5 298.9h0M850.1 296.5h0M855.9 297.6h0M942.7 296.5h0M947.8 299.5h0M1031.7 299.2h0M858.8 303.1h0M878.8 302.3h0M933 302.1h0M937.6 305.6h0M875.9 308h0M906.9 307.8h0M1031.7 310.5h0M847 316.7h0M861.2 316.6h0M871.8 314.5h0M878.8 316.7h0M1170.5 314h0M809 321.2h0M829.3 319.6h0M856.4 320.1h0M881.9 322h0M887.3 322.6h0M908 322.1h0M913.5 320.9h0M932.3 320.4h0M808.8 325.3h0M913.2 327.6h0M938 324.3h0M956.3 324.1h0M970.1 324.9h0M1015 324.8h0M811.5 330.8h0M831 333.8h0M837.9 330.8h0M903.6 331.1h0M1136.5 331.4h0M805.8 338.2h0M815.6 337.9h0M841.4 339.3h0M848 335.8h0M878.2 337.5h0M885.1 336.8h0M892.4 337.2h0M899.7 337.1h0M906.6 337.1h0M910.5 336.4h0M951.5 338.5h0M996.8 335.6h0M1117.3 339.7h0M809.2 344.9h0M825 343.7h0M929.7 345.3h0M800.2 348.7h0M825.2 347.4h0M873.7 347.2h0M878 347.2h0M894.1 349.1h0M952 350.8h0M1112.3 348.3h0M802.7 352.2h0M857.9 353.4h0M893.7 355h0M908.1 352.5h0M948.2 354.7h0M980.4 355.4h0M985 354.5h0M1105.2 355.7h0M814 361.8h0M818.5 358h0M859.5 360.4h0M976.9 358.8h0M1033.4 361.8h0M1087 358.9h0M1128 361.8h0M784.2 366.9h0M789.5 366.7h0M824.3 366.6h0M887.3 364.6h0M913 367.4h0M920.2 367.2h0M968.2 366.5h0M980.9 366.2h0M1101.2 364.7h0M1121.8 364.5h0M1144.3 365.7h0M839.2 371.8h0M853.8 369.9h0M899.4 371.8h0M911.4 372.2h0M988.1 370.3h0M1085 372.2h0M1094.7 372.8h0M783 376.8h0M804.1 374.9h0M842.2 378.2h0M850.1 377.4h0M992.3 375.2h0M1057.1 375.8h0M1070.2 374.9h0M1103.2 376.8h0M1115.3 375.4h0M1129.1 375.4h0M1148.3 379h0M762.8 384.4h0M786.9 382.7h0M794.3 383.2h0M799.8 384.2h0M815.5 381.2h0M832.6 380.6h0M893 383.3h0M906.2 380.4h0M916.1 382.6h0M938.7 384.4h0M958.9 380.5h0M1026.7 380.7h0M1041.9 383.9h0M1060.3 383.8h0M1068.6 382.8h0M1075 380.8h0M1117.7 382.1h0M1141 383.8h0M1145.7 380.6h0M1153.5 380.3h0M796.5 387h0M816.1 387.2h0M835.2 388.5h0M895.6 388.9h0M932.9 386.9h0M946.3 387.2h0M951.7 388.4h0M968.4 389.2h0M1025 387h0M1037.8 389.8h0M1044.9 387.7h0M1050.7 389.7h0M1076.2 389h0M1085.3 385.9h0M1089.4 387.9h0M1130.1 386.7h0M1135.7 386.7h0M1142.6 390.2h0M805.6 391.9h0M847.7 393.2h0M958.5 394.2h0M997.9 392.6h0M1007.9 394.4h0M1027.9 395h0M1059.9 393h0M1131.5 393.9h0M1143.5 395.4h0M1151.9 392.5h0M811.7 399.6h0M825 398.9h0M828.3 401.4h0M856 398.8h0M895.4 401.1h0M915.9 398.1h0M939.1 401.3h0M974.6 398.4h0M1016.8 398.1h0M1039.8 397.3h0M1130.1 398.1h0M748.9 406.5h0M762.1 405.8h0M770.5 407.1h0M834.3 404h0M845.8 405.3h0M897.7 407.1h0M912.4 406.6h0M962.9 403.5h0M970.5 404.3h0M996.4 407h0M1040.5 403.6h0M1062.9 405.1h0M1068.7 407h0M1091.8 403.5h0M753.6 412h0M778.9 411.7h0M792.5 412h0M795.8 411.8h0M835.9 410.5h0M849.7 412.8h0M887.8 410.9h0M897.2 410.3h0M962.3 412.7h0M1026.9 412.3h0M1045.5 412.3h0M1072.5 409.6h0M774 418.3h0M799.1 416.5h0M897.3 414.1h0M917.4 415h0M923.9 414.9h0M932.6 415.6h0M995.3 415.6h0M1059.1 414.6h0M783.6 421h0M803.5 420.4h0M875.8 421.7h0M987.2 423.2h0M1014.1 422.1h0M1030.7 421.6h0M735.6 428.9h0M754.4 429.5h0M763.5 425.8h0M798.8 425.5h0M824.8 429.1h0M835 427.1h0M887.1 425.4h0M894.1 428.3h0M904 426.4h0M1002.1 429.3h0M1036.9 429.4h0M1052.4 427.9h0M771 432.7h0M792.2 432.3h0M812.8 435.2h0M877.2 432.9h0M936.4 433.9h0M942.4 431.8h0M946.6 431.9h0M979.1 433.1h0M994 434.7h0M1005.3 433.1h0M1010.5 432.5h0M762.9 437.6h0M796.6 439.1h0M896.5 440.6h0M922.6 440h0M929.9 438.3h0M956 440.1h0M1010 440.6h0M1022.9 439.6h0M1047.7 440.6h0M732 444.3h0M836.4 445h0M850 444.4h0M881.4 444.3h0M889 444.2h0M952.9 443.4h0M961.7 444.3h0M980.3 443.8h0M1005 446h0M768.8 448.1h0M796.3 448.8h0M812.6 450.2h0M852.5 450.2h0M864.2 448h0M870.6 451.4h0M969.4 449.3h0M1047 448.1h0M746.4 457.2h0M754.2 453.9h0M760.1 455.7h0M810.2 457h0M873.8 455h0M909.2 455.4h0M919.8 453.7h0M927.1 454.9h0M935.7 454.3h0M999.2 454h0M1007.6 456.3h0M803 462.3h0M809.5 459.3h0M937.1 461.1h0M942.1 459.6h0M948.6 460.8h0M959 460.9h0M978.3 463.5h0M982.4 463.2h0M988.7 462.5h0M1000.7 460.9h0M1016.5 462.6h0M1053 462.1h0M1062.4 462.4h0M764.8 468.6h0M779 466.3h0M821.8 467.7h0M925.6 465.2h0M941.9 467.5h0M975.3 468.2h0M986.1 468.9h0M999.6 466.2h0M1003.5 465.3h0M1039.5 465.7h0M789.9 471.4h0M825.8 472.5h0M857.9 473.9h0M867.4 474h0M899.7 473.4h0M910.8 472.4h0M933.1 472.6h0M956.4 473.6h0M1004.5 473.3h0M1060.2 471.7h0M874.7 477h0M894 479.4h0M959.4 479.8h0M974.1 479.9h0M1006.8 477.6h0M1020.5 477.7h0M1029.5 478.1h0M852.9 483.5h0M931 483.4h0M1029.7 484.6h0M1035.7 481.7h0M1046.9 484.7h0M1052.6 483.8h0M766 491.5h0M903.1 487.4h0M941.8 487.8h0M945.5 490.4h0M971.8 489.6h0M978.8 490.5h0M985.3 488.5h0M1025.3 491.1h0M759.9 493.5h0M891.9 495.2h0M909.8 494h0M1001.5 496.7h0M1008.5 493.9h0M1036.7 497.1h0M1054.1 496.6h0M862.9 501h0M927.4 501.6h0M935.6 501.6h0M953.2 500.3h0M980.1 499.7h0M993.9 499.5h0M997.4 502.8h0M858.6 504.9h0M870.5 507.9h0M937.1 505.8h0M1013.3 506.5h0M928.9 513.8h0M958.9 511.6h0M987.1 510h0M994.6 514h0M1019.8 509.8h0M818.6 515.9h0M949.4 517.8h0M961.4 517.3h0M1003 518.9h0M916.6 521.4h0M927.7 521.9h0M1006.8 525h0M942.9 530.1h0M958.6 529.4h0M963 531h0M1210.4 998h0M1214.9 997.3h0M1126.4 1005.5h0M1199.4 1004h0M1239.4 1005.2h0M1249.6 1004.1h0M1259.1 1002.7h0M1161.5 1009.2h0M1169.8 1010.2h0M1200.3 1007.2h0M1216.3 1011.5h0M1227 1010.8h0M1200.9 1016.4h0M1212.7 1015.9h0M1218.1 1016.7h0M1268.4 1013.8h0M1156.6 1021.1h0M1177.6 1022.7h0M1206.7 1019.8h0M1214.4 1020.8h0M1112.3 1024.5h0M1131.9 1027.5h0M1159.6 1026.8h0M1205 1027.8h0M1212 1024.8h0M1259.3 1027.9h0M1272.4 1024.8h0M1278.6 1025.5h0M1124.3 1031.2h0M1138.7 1030.4h0M1158.4 1033.7h0M1164.9 1030.2h0M1170.5 1032.6h0M1187 1033.4h0M1206.4 1031.4h0M1107.9 1039.6h0M1121.7 1039.4h0M1178.7 1038.5h0M1225.4 1035.3h0M1237.4 1039.4h0M1268.3 1036.4h0M1283.8 1035.7h0M1129.3 1043.6h0M1148.6 1044.3h0M1169.6 1042.3h0M1203.8 1044.9h0M1233.8 1042.6h0M1177.9 1050.6h0M1183.8 1049h0M1192 1047.9h0M1206.7 1047.7h0M1210.7 1048.3h0M1230 1048.2h0M1278.6 1050.1h0M1289.2 1050.5h0M1169.7 1052.7h0M1175.2 1053.5h0M1183.5 1056h0M1201.6 1054.9h0M1214.5 1054.5h0M1222 1055.4h0M1266.6 1055h0M1278.9 1054.3h0M1293.8 1056.1h0M1069.1 1059.6h0M1122.1 1059.4h0M1132.4 1062h0M1177.2 1058.9h0M1186.6 1060.8h0M1216.8 1057.9h0M1226.2 1060h0M1261.9 1059.6h0M1281.3 1058.8h0M1291.4 1060.7h0M1296.6 1061.1h0M1063.9 1067.3h0M1148.4 1065.5h0M1155.4 1065.4h0M1162 1065h0M1174.5 1065.6h0M1187.5 1063.8h0M1197.4 1064.6h0M1235.5 1064h0M1247.6 1066.4h0M1280.9 1063.5h0M1294.4 1067.4h0M1070 1072h0M1132.6 1069.4h0M1192.6 1072.4h0M1231.8 1071.6h0M1237.1 1072.3h0M1257.8 1072.4h0M1294.5 1070.8h0M1309.6 1073.2h0M1168.5 1074.7h0M1195.5 1074.9h0M1239.4 1079h0M1252 1078.7h0M1261.4 1078.6h0M1284.3 1077.3h0M1292.4 1077.9h0M1125.3 1080.7h0M1142.3 1084.1h0M1191.3 1084.1h0M1219.4 1084.2h0M1269 1081h0M1281 1082.2h0M1296.3 1081.1h0M1304.4 1081.7h0M1314.3 1082.1h0M1168.9 1088.3h0M1181.1 1086.9h0M1242.4 1089.1h0M1267 1089.2h0M1285.5 1090.2h0M1298.4 1086.9h0M1313.8 1086.5h0M1319.5 1090.2h0M1207.1 1095.4h0M1259.1 1095.5h0M1274.9 1095.4h0M1284.5 1094.2h0M1288.2 1094.6h0M1298.2 1094.6h0M1308.6 1092.2h0M1314.2 1094h0M1169.9 1097.7h0M1177.7 1099.7h0M1206.8 1099.3h0M1216.7 1099.1h0M1234.7 1098.3h0M1259.7 1099.1h0M1268.5 1097.8h0M1273.6 1098.6h0M1292.9 1098.2h0M1319 1097.2h0M1324.3 1100.1h0M1216.6 1104.9h0M1252.8 1106.1h0M1265.4 1104h0M1283 1103.8h0M1314.7 1103.7h0M1209.3 1110.8h0M1221.5 1109.4h0M1249.2 1112.6h0M1272.2 1112.1h0M1281.8 1108.5h0M1291.2 1111.7h0M1305.5 1108.8h0M1043.2 1116.2h0M1210 1114.8h0M1217.7 1118.2h0M1236.4 1118.3h0M1251.2 1115.6h0M1257.1 1115.5h0M1272.3 1117.4h0M1282.8 1115.6h0M1298.3 1116.2h0M1307.9 1117.2h0M1216.6 1122.4h0M1249.1 1121h0M1280.1 1121.3h0M1294.9 1121.2h0M1312.3 1121.6h0M1318.7 1120.5h0M1193.6 1125.4h0M1235.9 1128.4h0M1243.4 1127.3h0M1261.9 1129.4h0M1278.5 1127.2h0M1290.9 1126.4h0M1314.6 1127.2h0M1034.6 1131.7h0M1196.4 1132.4h0M1208.9 1134.7h0M1260.8 1132.9h0M1284.9 1133.6h0M1312 1132.2h0M1320.6 1134.2h0M1205 1139h0M1222.5 1139.3h0M1229.9 1139.9h0M1237.1 1139.4h0M1255.7 1138h0M1283.7 1137.5h0M1291.4 1136.6h0M1045 1143.6h0M1208.2 1144.8h0M1223.1 1142.4h0M1242.8 1144.9h0M1246.9 1145.6h0M1255.8 1146.3h0M1262.6 1144.7h0M1274.9 1142.5h0M1292.1 1145.8h0M1204.9 1149.6h0M1210.8 1147.9h0M1224.1 1150.1h0M1122.1 1154.7h0M1268.8 1153.5h0M1054 1161.8h0M1087.7 1160.6h0M1147.8 1159.2h0M1168.2 1160.4h0M1200.3 1162.1h0M1060 1165h0M1119.1 1168.6h0M1135.2 1166.9h0M1142.1 1165.6h0M1171 1167.3h0M1183 1168h0M1161.4 1173.1h0M1032 1179.5h0M1063.3 1180.1h0M1077.4 1178.8h0M1084.5 1179.1h0M1138.3 1179.1h0M1057.3 1182.7h0M1047.2 1190.8h0M1060.8 1191.5h0M1092.7 1188.2h0M1034.6 1195h0M1056 1195.1h0M1063 1194.7h0M1070.4 1194.1h0M1547.1 280.9h0M1525.9 286.6h0M1534 285.9h0M1550.7 285.2h0M1569.2 284.8h0M1589.7 287.8h0M1516.4 291.8h0M1542.6 291.8h0M1548.1 289.7h0M1559.3 289.7h0M1566.4 290.2h0M1576.6 289.8h0M1579 290.3h0M1505 298.6h0M1510.7 295.2h0M1525.5 297.7h0M1532.6 298.2h0M1538 298.2h0M1544.6 296.5h0M1557 298.3h0M1570 294.9h0M1589.9 295.1h0M1522.4 300.4h0M1530.9 304.6h0M1541.9 303.5h0M1548.3 303.4h0M1555.5 302.5h0M1561.6 301h0M1494.5 306.4h0M1499.4 309.1h0M1507.7 308h0M1520.7 310.2h0M1525.6 308.4h0M1541 308.7h0M1547.1 306.7h0M1549.7 307.4h0M1556.9 306.2h0M1597.5 308.8h0M1604.4 307.9h0M1498.1 314.1h0M1501.1 314.6h0M1507.9 313.6h0M1534.7 313.1h0M1544 312.5h0M1553.5 312.5h0M1587.6 314.9h0M1602.7 314.7h0M1491.4 318.4h0M1510.8 317.7h0M1526.6 320.1h0M1530.4 318.7h0M1559.2 321.2h0M1595.5 320.7h0M1604 320.8h0M1609.4 320.4h0M1503.4 326.5h0M1509.7 323.2h0M1536.1 325.7h0M1556.6 325.6h0M1595.8 323.2h0M1605.6 324.8h0M1615.5 326.8h0M1512.6 331.4h0M1540.4 332h0M1547.1 330.6h0M1596.8 331.4h0M1518 335.2h0M1529.1 337.6h0M1547.3 337.8h0M1553.5 334.9h0M1573.4 336.4h0M1579.9 335h0M1585.5 334.6h0M1608.6 337.9h0M1517.4 342.4h0M1524.9 343.1h0M1538.8 341.2h0M1543.8 341.4h0M1564.8 341.9h0M1575.7 341.2h0M1582.3 342.9h0M1603.5 342.4h0M1556.4 346.6h0M1560.8 346.3h0M1569.7 345.8h0M1573.9 345.8h0M1583.1 345.6h0M1526.1 353.2h0M1575.9 351.2h0M1590.2 355.1h0M1603.1 354h0M1530.9 358.8h0M1534.3 358.4h0M1542.7 360.3h0M1557.1 358.5h0M1567 360.1h0M1575.8 357.7h0M1579 360.8h0M1595.5 360.5h0M1540.9 364.1h0M1546.6 363.4h0M1550.1 363.5h0M1559.1 363.4h0M1563.7 364h0M1571.2 365.1h0M1597.2 365.7h0M1617.4 363.1h0M1623.1 363.7h0M1568.3 368.3h0M1576.1 368.5h0M1582.3 371h0M1587.4 371h0M1595.9 368.4h0M1599.5 370.1h0M1615.6 371.1h0M1618.8 371.7h0M1639.4 369.1h0M1551.6 377.8h0M1556.5 376.3h0M1592.9 374.1h0M1603.4 374.9h0M1608.5 376.9h0M1630.1 375.7h0M1533.3 382.3h0M1540.6 380.9h0M1565.9 380.1h0M1600.3 379.5h0M1619 381.6h0M1627.6 379.4h0M1632 380.9h0M1534.2 385.4h0M1537.5 388.1h0M1564.3 388.3h0M1570.8 387.7h0M1591 388.3h0M1629.3 386.6h0M1636.4 387.5h0M1536 391.7h0M1559.5 392.2h0M1586.4 391h0M1592.2 390.3h0M1606.3 390.9h0M1620.7 391.2h0M1538.9 396.4h0M1558.4 399.8h0M1563.7 398.3h0M1569.9 399.1h0M1584 398.6h0M1623.9 399.4h0M1634.9 397h0M1640.9 397.7h0M1555.3 403.3h0M1563.6 405.3h0M1574.3 403.4h0M1579.1 405.2h0M1619.7 404.3h0M1632.4 402.1h0M1543.5 407.7h0M1553.9 411.1h0M1557.8 409.8h0M1589.4 411.3h0M1603 411.2h0M1614.7 408.6h0M1630.5 407.6h0M1548.4 416.1h0M1555.5 415.2h0M1599.5 415.7h0M1644.1 414.3h0M1556.9 421.4h0M1575.7 419.2h0M1630.8 420.7h0M1636.1 421.6h0M1643.3 421.9h0M1651.1 420.6h0M1554.2 425.1h0M1600.2 425.8h0M1618.9 427.9h0M1648 424.9h0M1553.5 430h0M1564.3 431.8h0M1592.2 432.6h0M1601.8 431.4h0M1635.4 429.8h0M1642.1 434h0M1649.1 430h0M1582.9 437.5h0M1631.1 438h0M1639.5 437.8h0M1563.9 442.1h0M1626.1 449.9h0M1635.2 448.2h0M1638.6 446.8h0M1651.8 448.9h0M1556.9 454.9h0M1555.2 461.8h0M1589.2 461.5h0M1593.1 459.1h0M1598.4 460.4h0M1626.6 462.2h0M1634.8 458.7h0M1560.3 467.2h0M1571.9 467.1h0M1592 463.6h0M1630.1 467.5h0M1626.7 472.5h0M1640.5 470.5h0M1646.8 472.5h0M1556.3 478.4h0M1579.4 478.9h0M1611.3 477.3h0M1618 475.5h0M1642 475h0M1568.7 482.1h0M1573.4 483.7h0M1605.6 482h0M1628.6 482.6h0M1564 486.9h0M1569.8 490.2h0M1583 486.8h0M1588.7 489.7h0M1609.5 487.1h0M1615 490.2h0M1568.6 495.4h0M1574.2 492.1h0M1594.2 495.7h0M1628 493.5h0M1631.3 491.7h0M1653.5 492.2h0M1559 498.3h0M1611 498.7h0M1629 498.3h0M1653.9 500.6h0M1561.1 505.8h0M1569.8 504.8h0M1592.5 505.4h0M1598.3 505.7h0M1634.5 505.6h0M1667 507.2h0M1579.5 511.8h0M1605.1 511.9h0M1618.3 511.1h0M1630 512.3h0M1638.1 512.2h0M1655.6 511h0M1567.5 514.5h0M1573 514.6h0M1619 517.1h0M1648.2 515.4h0M1650.8 515h0M1658 515.8h0M1666.1 517.3h0M1672 518h0M1677.2 516.6h0M1552.7 522.6h0M1559.1 523.1h0M1577.6 522.3h0M1598.1 522.1h0M1649.5 520.1h0M1670.5 523.6h0M1547.4 526.9h0M1561.4 529.2h0M1573 525.9h0M1600.9 529.7h0M1607.3 525.6h0M1628 526.4h0M1651.4 529.8h0M1658.2 528h0M1665.1 529.7h0M1596.3 533.7h0M1609.8 535.1h0M1644.9 534.4h0M1666.9 531.8h0M1547.1 538.9h0M1555.5 540.3h0M1576.4 537.2h0M1580 539.7h0M1586.6 540h0M1611.3 538.2h0M1618.3 538.7h0M1646.4 540.2h0M1653.4 540.9h0M1659 538.9h0M1672.9 538.7h0M1538.9 542.5h0M1546.3 545.5h0M1569.5 542.5h0M1578.6 543h0M1592.7 542.9h0M1596.5 546.5h0M1615.6 546.6h0M1622.4 545.7h0M1630.5 543.1h0M1636.5 542.4h0M1649.6 545.3h0M1661.7 542.6h0M1675.6 542.3h0M1547.2 548.2h0M1562.1 550.7h0M1573.7 551.8h0M1579.8 550.9h0M1598.6 548.2h0M1608.6 549.2h0M1619.5 551.3h0M1627 550.8h0M1652.9 549.9h0M1677.4 551.2h0M1547.3 556.3h0M1569.5 554.7h0M1578.5 556.8h0M1591.8 556.2h0M1595.7 554.9h0M1608.4 557.5h0M1617.4 557.8h0M1669.2 555.8h0M1688.6 554.3h0M1563.7 562.4h0M1589.4 559.5h0M1593.9 561h0M1599.5 563.1h0M1627 562.4h0M1640.6 560.1h0M1657.2 562.9h0M1677.5 560h0M1686.1 560.2h0M1558.6 565.5h0M1563.5 565.8h0M1586.1 565.5h0M1605.6 566.1h0M1612.2 566.1h0M1624.2 568.7h0M1636.3 567.7h0M1644.6 566.1h0M1649.6 565.3h0M1567.3 571.8h0M1578.8 571.4h0M1588.7 572.2h0M1600.7 574.6h0M1614.7 574.6h0M1621.4 574.8h0M1633.1 573.8h0M1641.5 571.6h0M1645.3 572.7h0M1652.5 571.9h0M1666.6 573.5h0M1670.2 571.2h0M1569.2 580.2h0M1576.1 576.6h0M1583.2 578h0M1612.2 580.3h0M1621.2 580h0M1636.3 579.8h0M1660.2 576.5h0M1582.7 585.7h0M1589.2 582.8h0M1593.6 582.4h0M1600.5 582.2h0M1608.2 584.1h0M1614.7 582.8h0M1633.3 582.8h0M1645.5 583.9h0M1586.3 587.5h0M1609.3 589.5h0M1621.4 590.8h0M1631.2 588.7h0M1634.7 589.7h0M1613.7 593.1h0M1636.3 822.7h0M1644.3 821.7h0M1644.7 829.7h0M1656.7 828.3h0M1669 834.3h0M1672 840.7h0M1690 830.3h0M1705.3 834.3h0M1706 838.3h0M1701.3 853h0M1706 855.7h0M1309.7 416h0M1388.2 439.2h0M1403.3 432.6h0M1411.6 432h0M1426.8 437.8h0M1432.3 439.9h0M1451.7 444h0M1283.2 520.7h0M304.7 745h0M410.4 538.9h0M1078.3 291.7h0M1055.8 319.2h0M904.3 786.9h0M902.9 793.5h0M892.6 797.1h0M1113.7 1118.4h0M1147.5 1121.9h0M1105.9 1089.8h0M1146.6 1092.4h0M1155.3 1106.3h0M1175.2 1141.8h0M1129.3 1147h0M1104.1 1067.3h0M1111.9 1062.9h0" stroke="#b63679" stroke-width="10.6" stroke-linecap="round" fill="none"/>
<path d="M1020 223.8h0M954.1 231.1h0M900.8 241.4h0M955.2 242.3h0M959.6 243.1h0M1013.8 243.2h0M1069.9 241h0M884.9 247.2h0M984.8 247h0M1039.4 252.2h0M1078 253.6h0M997 258.6h0M1046.2 257.9h0M845.1 263.4h0M1012 264.1h0M1047.8 270.4h0M886.7 273.4h0M965.5 276h0M998.2 274.5h0M1025.8 273.8h0M1059.6 277.6h0M1068.7 274.2h0M1083.2 276.9h0M840.2 280.8h0M889.9 282.8h0M898.3 279.5h0M910.6 279.9h0M994.9 279.7h0M1002.2 281.1h0M1028.6 282.7h0M941.8 285.3h0M884.9 292.5h0M971.4 293.4h0M860.9 298.7h0M1012.8 297.4h0M1025.9 300.1h0M1038.4 300.2h0M1052.6 298.1h0M828.7 304.4h0M944.6 301.6h0M976.8 301.6h0M1001.4 301.6h0M1028.7 303.6h0M1033 305h0M921.2 311.1h0M935 308.5h0M953.7 310.7h0M978 309h0M985.6 308.4h0M828.9 312.8h0M841.4 316.9h0M865.9 313.8h0M896.8 313.7h0M1010.4 314.5h0M1176.8 313.3h0M926.6 322.5h0M964.8 320.8h0M815 327h0M824.9 324.7h0M854.5 324.4h0M859.5 326.7h0M898.1 325.2h0M907.1 325h0M1003.4 324.6h0M906.5 332.6h0M985 331.5h0M1003.8 332.4h0M822 337.6h0M828.7 337.5h0M967.9 336.7h0M1007.1 337.3h0M1126.3 335.5h0M1133.3 339h0M829 344.5h0M836.8 344h0M916 343.2h0M971.3 343.3h0M978.7 345.2h0M997.6 341.5h0M808.4 349.4h0M812.3 349.4h0M818.4 347.9h0M1021.4 348.6h0M798.4 356.2h0M877.2 354.8h0M1006.6 355.1h0M787.4 359.5h0M808.3 362.1h0M1001.4 358.3h0M1056.2 357.9h0M1117.7 359.6h0M798.2 367h0M841.8 366.1h0M906.7 366.4h0M926.4 364.6h0M974.7 363.6h0M1090.6 367.2h0M775.8 369.7h0M799.2 372.8h0M818.5 372h0M951.2 373.1h0M971.5 369.9h0M1060.5 373.2h0M1068.8 369.7h0M772.3 378.1h0M812.6 378.4h0M900.2 375.2h0M997.6 377.3h0M1004.2 377.7h0M1098.8 377.9h0M1110 377.1h0M1142.3 374.7h0M780.5 384.5h0M910.5 381.2h0M756.8 389.6h0M855.3 388.2h0M875.5 387.9h0M907.2 389.8h0M1006.5 387.8h0M1095.7 390.2h0M767.1 395.9h0M826.2 394.9h0M877.4 393h0M969.5 394h0M1048.1 394.8h0M1088.5 395h0M776.3 401h0M805.9 399.6h0M882.1 400.3h0M1062 398.5h0M754.5 403h0M945.7 405.5h0M952.4 403.7h0M984.7 405.4h0M1073.9 403.8h0M809.1 411.2h0M825 410.1h0M830.9 410.7h0M955.5 412.7h0M977.9 409.6h0M1010.4 412.1h0M782.7 414.8h0M789.8 415.8h0M892.3 417.1h0M975.6 417h0M1043.2 416.1h0M822 422.3h0M851.2 421.5h0M857.4 421.3h0M888.1 422.5h0M901.7 420.9h0M934.8 423.7h0M741.3 425.6h0M749 429.1h0M821.4 427.3h0M951.3 427.3h0M1007.5 425.8h0M1028.7 426.4h0M747.7 433.2h0M801.6 436.9h0M838.1 436.8h0M866.9 440.1h0M918.9 437.4h0M994.7 438.8h0M1056.1 436.6h0M779.5 444.9h0M791.6 443.4h0M875.8 443.2h0M893.6 444.4h0M779.9 448.8h0M825.9 450.9h0M894 450.9h0M964.7 451.8h0M825.2 456.2h0M857.5 454h0M900 457.9h0M939.4 455.4h0M789 462.2h0M826.9 462.2h0M846.2 459.1h0M917.6 463.1h0M996.3 463.1h0M830.8 467.9h0M864.9 466.4h0M919.2 465.6h0M1018.9 465.5h0M1055.7 467.3h0M990.7 472.2h0M1020.9 474.6h0M1042.2 471.4h0M784.1 480.1h0M881.7 476.8h0M925.7 478.1h0M952 478.8h0M795.2 485.7h0M801 485.6h0M827.5 484.1h0M866.3 483h0M919.3 484.4h0M939 482.8h0M963.8 482.4h0M987.5 482.2h0M1000.7 484.9h0M864.1 488.7h0M964.6 489h0M1013.6 487.6h0M834 493.2h0M926.4 494.6h0M951.4 493.5h0M956.3 495.4h0M969.4 495.3h0M1016.6 493.8h0M828.1 501.7h0M1020.1 502.2h0M1043.1 501.5h0M905.6 505.5h0M951 505.8h0M957.9 504.1h0M1001.7 506.6h0M1033.7 506h0M777.5 510h0M832.1 513.5h0M900.5 513.5h0M955.3 511h0M999.1 511.8h0M783.4 516.2h0M802.3 519.7h0M919.3 516.9h0M1015 519.6h0M975.6 527.5h0M984 530.6h0M375.1 460.7h0M417.1 465.8h0M369.2 471.6h0M365.4 477.4h0M413.7 482.1h0M406.4 486.2h0M364.1 503.9h0M350.4 509.5h0M367.1 511.5h0M435.7 521.1h0M343.2 528.7h0M367.1 527h0M379.6 526.1h0M354.2 531.4h0M367.4 539.4h0M460 537.3h0M493.6 538.1h0M327.2 541.8h0M361.9 548.7h0M369.8 549.9h0M334.6 555.6h0M370.9 555.8h0M461.9 554.3h0M468.2 556.9h0M344.3 562.3h0M448.4 559.6h0M346.2 568.1h0M442.4 567.6h0M471.4 573.4h0M340.8 576.5h0M346.1 576.2h0M377.4 576.2h0M462.9 577h0M372.8 583h0M463.8 581.2h0M358.3 589.6h0M392.7 588.2h0M323.3 592.5h0M346.8 594.2h0M463.8 595.7h0M334.8 598.9h0M373.7 598.1h0M438.2 600.4h0M406.5 605.8h0M428.7 604.1h0M440.6 607.2h0M453.8 606.2h0M467.6 604.9h0M486.7 605.2h0M415.4 612.7h0M422.8 612.8h0M426.7 615h0M435.1 621.1h0M470.5 623.4h0M445.1 627.2h0M477.8 627.5h0M896.8 791.1h0M873.3 806.1h0M871.3 810.2h0M887.7 813.4h0M730.1 829.9h0M643.1 832.6h0M653.2 835.8h0M705.5 835.5h0M718.4 835.5h0M651.5 838.6h0M678.3 839h0M799.5 840.2h0M835.5 838.2h0M634.8 844.3h0M836 844.8h0M662.6 852.9h0M673.2 850.6h0M829.2 852.2h0M655.9 858h0M675.4 858.3h0M685.3 859.2h0M897.2 855.7h0M614 860.9h0M633.2 864.7h0M867 862.9h0M883.6 864.8h0M624.5 870h0M627 866.6h0M759.6 870.4h0M845 869.6h0M887.7 868.6h0M613.2 872.8h0M796.2 874h0M839.5 873.6h0M845 875h0M891.5 874.3h0M667.9 880.5h0M672.5 877.6h0M758.3 881.2h0M776.6 881.1h0M812.3 879.2h0M823.2 879.8h0M861.8 877.8h0M897.1 878.9h0M903.6 879h0M626.3 887h0M695.4 883.9h0M762.4 884.7h0M776.9 886.6h0M786.7 886.6h0M834.3 883.2h0M840.8 886.7h0M853.9 884.4h0M924.3 885.4h0M930.9 883.9h0M758.5 891.2h0M901.2 892h0M627.9 895.3h0M631.8 898.6h0M736 894.8h0M820.2 898.1h0M930.4 895.1h0M656.9 903.6h0M682.9 902h0M689.5 900.4h0M778.3 900.6h0M783.5 900.7h0M837.7 903.2h0M899.9 904.2h0M952.2 902.8h0M620.9 907.7h0M634.3 909.3h0M650.4 907.8h0M685.7 909.3h0M715 909.8h0M827.2 905.9h0M833.8 906.2h0M855.1 906h0M892.7 909.8h0M911.9 908.3h0M656.7 915.2h0M698.4 911.4h0M713.8 914.3h0M639.2 919.8h0M685.3 919.2h0M697.2 917.4h0M709 920.2h0M716.2 918.6h0M768.3 919.5h0M774.7 917h0M814.9 917.2h0M840.7 918.9h0M698.6 924.7h0M715.6 926.3h0M826.1 922.8h0M849.2 923.7h0M683.5 932.3h0M691.8 931.6h0M730.9 929.5h0M775.6 930.8h0M821.5 932.3h0M705.7 941.5h0M787.8 942.2h0M634.9 945.6h0M643.1 948.1h0M696 949.2h0M721 945.8h0M746.8 945h0M785.9 946h0M618.6 953.9h0M644.9 953h0M715.4 953.1h0M686.6 960.3h0M713.6 959h0M732.9 956.4h0M759.6 960.1h0M651 963.7h0M659.9 963.7h0M634.4 967.8h0M660 971.8h0M678.6 985.3h0M691.9 993.7h0M1224.7 993.8h0M1222.1 998.5h0M1243.5 1001.9h0M1118.7 1014.6h0M1184.3 1014.2h0M1193.7 1016.4h0M1220.1 1019.1h0M1262 1022.3h0M1269.1 1019.3h0M1101.2 1039.1h0M1168.1 1036.9h0M1173.6 1036.4h0M1183.5 1044h0M1191.1 1043.8h0M1278.2 1044.8h0M1257.3 1050.3h0M1186.8 1054.8h0M1197.2 1054.8h0M1241.9 1053.9h0M1261.2 1054.6h0M1116.2 1060.1h0M1236.5 1060.8h0M1252 1059.3h0M1271.4 1059.6h0M1301 1065.7h0M1187.6 1072.9h0M1277.4 1070h0M1050.1 1082.2h0M1056.4 1081.6h0M1070.6 1083.6h0M1181.3 1081h0M1206 1080.6h0M1245.9 1080.6h0M1040.6 1088.7h0M1066.1 1087.4h0M1136.8 1086.3h0M1141.7 1088.6h0M1152.1 1086.8h0M1156.2 1090.1h0M1162.1 1088.7h0M1021.7 1093.5h0M1326.6 1091.7h0M1180.3 1100h0M1190.8 1100.7h0M1285.1 1097.3h0M1034.5 1104.5h0M1185 1103h0M1231.2 1104.8h0M1242.1 1110.6h0M1021.3 1118.1h0M1018.2 1123.5h0M1301.8 1125.8h0M1072.2 1134.1h0M1083.1 1133.7h0M1254 1134h0M1267.7 1131.5h0M1041.3 1137.2h0M1244.1 1138h0M1269 1137h0M1049.8 1149.1h0M1063.4 1151.2h0M1193.3 1149.3h0M1251.4 1149.3h0M1269.1 1148.9h0M1150.1 1154.7h0M1201.4 1157.2h0M1236 1155.1h0M1262.2 1154.7h0M1179.7 1162h0M1067.7 1173.7h0M1081.9 1171.8h0M1086.4 1172.2h0M1044.2 1178.5h0M1090 1182h0M1066.2 1190.7h0M1071.3 1189.9h0M1078.5 1187.4h0M1329.9 665.1h0M1272.3 676.1h0M1326.3 680.6h0M1258.2 689.9h0M1262.9 691.6h0M1266.1 695.3h0M1295.6 700.7h0M1364 698.6h0M1236.5 702.9h0M1288 706.5h0M1226.8 708.7h0M1238.3 710.4h0M1253.3 710.7h0M1295.9 708.8h0M1324.5 710.2h0M1235.2 716.8h0M1366.4 714.4h0M1282.8 721.4h0M1298.9 719.4h0M1316.1 721h0M1350.1 722.6h0M1333.3 726.4h0M1231.6 734.5h0M1266.6 731.8h0M1288.7 738.2h0M1295.9 737.9h0M1308.6 738.1h0M1351.9 740.2h0M1359.6 738.5h0M1371.1 739.2h0M1174.6 744.8h0M1266.1 745.8h0M1349.7 743.5h0M1368.9 743.8h0M1184.2 751.9h0M1287.9 750.3h0M1348 751.6h0M1213.6 754.7h0M1232.2 753.5h0M1291.6 753.5h0M1318.6 757.1h0M1196.5 758.9h0M1229 760.5h0M1270.2 760.2h0M1273.8 762.5h0M1279.1 760.4h0M1337.8 760.9h0M1347.1 761h0M1218.5 766.9h0M1259.1 766.1h0M1282.6 767.5h0M1325.3 765.3h0M1335.1 767.6h0M1383.1 767.2h0M1211.8 774.2h0M1230.4 772.5h0M1345.2 773.6h0M1244.4 778.5h0M1286.5 780h0M1317.5 779.7h0M1323.7 778.2h0M1341.7 776.7h0M1375.9 777.8h0M1384 778.6h0M1256.7 785.3h0M1300.9 784.9h0M1347.5 783h0M1372.6 785.2h0M1270.6 788.2h0M1284.7 787.3h0M1389.1 787.1h0M1315.6 798.3h0M1498.4 298.9h0M1553.3 294.8h0M1602.6 298.4h0M1594.7 300.6h0M1598.9 304.4h0M1514.9 310.2h0M1492 313.4h0M1520.5 315.2h0M1520.6 325.4h0M1552 331.1h0M1556.3 330.4h0M1563.4 334.6h0M1532.6 343.4h0M1619.7 359.3h0M1626 369.3h0M1546.7 376.3h0M1595.1 379.4h0M1643.5 385.4h0M1572.8 392.9h0M1579.4 394.7h0M1601.9 392.6h0M1628.9 400.1h0M1536.5 401.9h0M1567 416.1h0M1588.4 413.7h0M1592.9 414.7h0M1633.3 414.9h0M1596.4 418.8h0M1555.4 437.6h0M1561.5 438.3h0M1604.3 445h0M1583 455.7h0M1605.8 461h0M1620 460.6h0M1653.2 457.9h0M1615.2 464.9h0M1570.1 476.2h0M1625.1 475.5h0M1631.3 476.8h0M1648 475.7h0M1594.6 484.6h0M1598.7 484.3h0M1556.2 486.1h0M1599 498.2h0M1560.2 516.9h0M1609 517.6h0M1625.6 514.3h0M1592.8 522.4h0M1630.5 531.1h0M1634.5 538.3h0M1657.4 543h0M1568.4 550.2h0M1595.5 548.9h0M1612.2 548.2h0M1644 553.9h0M1662.4 557.4h0M1615.3 560.4h0M1666.8 567.8h0M1615.9 588.5h0" stroke="#000004" stroke-width="10.6" stroke-linecap="round" fill="none"/>
<path d="M372.8 464.5h0M374.4 473.7h0M408.1 454.5h0M402 466.8h0M395.8 472.9h0M386.6 483.7h0M395.8 485.2h0M351.3 496h0M349.8 502.9h0M360.6 500.6h0M380.5 503.6h0M394.3 505.2h0M395.8 510.5h0M343.7 520.5h0M348.3 527.4h0M329.9 531.2h0M339.1 532h0M388.2 529.7h0M372.1 558.1h0M325.3 566.5h0M325.3 580.3h0M323.7 584.9h0M322.2 594.1h0M448 530.5h0M456.4 537.4h0M481.7 529.7h0M495.5 548.1h0M471 573.4h0M481 571.9h0M491.7 574.2h0M476.3 582.6h0M478.7 599.5h0M443.4 603.3h0M449.5 606.4h0M453.3 616.3h0M421.9 608.7h0M431.1 622.5h0M481.7 637.1h0M484 638.6h0M646.8 821.8h0M662.4 826.4h0M654.2 845.7h0M677.1 843.8h0M660.6 864h0M681.1 864h0M694.5 857.6h0M716.5 857.6h0M744.9 858.5h0M708.3 870.4h0M663.3 879.6h0M717.4 882.3h0M727.5 882.3h0M759.6 874.1h0M740.3 891.5h0M696.3 894.3h0M706.4 896.1h0M753.2 895.2h0M779.8 895.2h0M807.3 844.8h0M821.9 833.8h0M823.8 845.7h0M641.3 901.6h0M679.8 906.2h0M697.3 915.3h0M706.4 908.9h0M749.5 911.7h0M800.8 917.2h0M832 898.8h0M832 907.1h0M646.8 927.3h0M651.4 932.8h0M705.5 940.1h0M718.3 941h0M723.8 941.9h0M732.1 941.9h0M740.3 943.8h0M747.7 929.1h0M770.6 930.9h0M766.9 938.3h0M791.7 949.3h0M628.5 952.9h0M629.4 964.8h0M711 953.8h0M711.9 963.9h0M698.2 962.1h0M725.7 969.4h0M720.2 973.1h0M694.5 983.2h0M678 986.8h0M693.6 1002.4h0M900.8 873.2h0M945.7 899.8h0M910.8 908h0M862.3 906.2h0M892.5 797.1h0M903.5 792.5h0M905.3 787h0M1251.7 672.3h0M1268.9 666.6h0M1273.2 675.2h0M1263.2 683.8h0M1241 688.1h0M1284.7 701h0M1290.4 710.3h0M1271.1 708.2h0M1228.8 716.8h0M1242.4 717.5h0M1299 673.8h0M1289 678.1h0M1286.1 686.7h0M1296.2 692.4h0M1299 702.4h0M1310.5 708.2h0M1313.4 713.9h0M1299.8 656.6h0M1309.8 651.6h0M1309.8 660.9h0M1313.4 670.9h0M1319.1 670.9h0M1324.1 665.2h0M1339.2 669.5h0M1337.8 675.2h0M1337.8 685.2h0M1327.7 691h0M1319.1 693.8h0M1313.4 683.8h0M1320.6 682.4h0M1310.5 689.5h0M1357.8 675.2h0M1349.2 688.1h0M1352.1 699.6h0M1357.8 699.6h0M1366.4 688.1h0M1369.3 685.2h0M1339.2 636.5h0M1339.2 643.7h0M1332 643.7h0M1333.5 715.3h0M1336.3 725.4h0M1322 728.2h0M1327 741.1h0M1334.9 741.1h0M1344.9 735.4h0M1346.4 748.3h0M1349.2 752.6h0M1357.8 755.5h0M1366.4 728.2h0M1381.5 738.3h0M1376.5 738.3h0M1290.4 725.4h0M1274.7 736.1h0M1280.4 744h0M1279 752.6h0M1283.3 758.3h0M1268.9 756.9h0M1271.8 766.9h0M1266.1 774.1h0M1274.7 775.6h0M1289.7 777h0M1301.9 777h0M1301.9 784.2h0M1303.3 756.9h0M1310.5 754.8h0M1306.2 797.1h0M1319.1 801.4h0M1324.9 789.9h0M1332 794.2h0M1337.8 799.9h0M1346.4 791.3h0M1326.3 775.6h0M1327.7 781.3h0M1340.6 772.7h0M1346.4 779.9h0M1332 765.5h0M1352.1 765.5h0M1366.4 792.8h0M1376.5 782.7h0M1380.8 779.9h0M1382.2 799.9h0M1385.1 810h0M1389.4 808.5h0M1363.6 814.3h0M1369.3 817.1h0M1353.5 673.8h0M1193 769.8h0M1187.2 771.2h0M1198.7 771.2h0M1201.6 774.1h0M1190.1 765.5h0M1197.3 765.5h0M1214.5 768.4h0M1231.7 762.6h0M1253.2 784.2h0M1238.8 788.5h0M1267.5 791.3h0M1188.7 734h0M1180.1 739.7h0M1175.8 749.7h0M1184.4 751.2h0M1191.5 744h0M1209.5 742.6h0M1257.5 743.3h0M1264.6 746.2h0" stroke="#b63679" stroke-width="10.6" stroke-linecap="round" fill="none"/>
<path d="M1650.7 825.7h0M1595.1 1046.6h0M896.3 784.7h0M1097.6 1110.6h0M1028.8 1138.1h0M1033 1153.4h0M1032.2 1167.7h0M1031.3 1173.6h0M1046.6 1174.5h0M1077 1180.4h0M1081.2 1186.3h0M1086.3 1193.1h0M1094.7 1184.6h0M1100.7 1182.9h0M1076.1 1200.7h0M1041.5 1201.5h0M1052.5 1194.8h0M1054.2 1204.9h0M1144.6 1029.9h0M1164.9 1029.1h0M1169.1 1037.6h0M1177.6 1035h0M1240.1 1021.5h0M1229.2 1087.4h0M1216.5 1110.2h0M1258.7 1117h0M1229.2 1138.1h0M1258.7 1152.5h0M1025 215h0M975 222.5h0M973.8 236.2h0M905 257h0M890 266.2h0M877.5 270h0M937.5 272.5h0M973.8 263.8h0M1075 295h0M1183.8 312.5h0M1061.2 342.5h0M1120 336.2h0M907.5 341.2h0M811.2 336.2h0M820 372.5h0M767.5 388.8h0M746.2 413.8h0M843.8 438.2h0M831.2 445.5h0M811.2 446.2h0M877.5 441.2h0M995 363.8h0M1131.2 362.5h0M1067.5 395h0M1100 395h0M977.5 393.8h0M1000 437.5h0M925 465h0M863.8 481.2h0M1003.8 501.2h0M1035 511.2h0M359.8 488.3h0M458.7 569.6h0M460.2 611.7h0M770.6 856.7h0M649.6 871.3h0M624.8 888.8h0M634.9 911.7h0M662.4 920.8h0M671.6 928.2h0M622.1 936.4h0M614.8 945.6h0M641.3 947.4h0M642.3 954.8h0M635.8 969.4h0M693.6 970.3h0M712.8 983.2h0M722.9 954.8h0M734.8 921.8h0M761.4 901.6h0M792.6 935.5h0M769.7 947.4h0M826.5 908.9h0M1281.1 668h0M1340.3 713.6h0M1306.9 738.6h0M1293 760.5h0M1293.3 772h0M1529.5 279.8h0M1600.6 348.6h0M1613.4 370.8h0M1543.5 377.8h0M1594.8 384.8h0M1641.4 379h0M1526 408.1h0M1599.4 409.3h0M1587.8 422.1h0M1639.1 416.3h0M1558.6 499.1h0M1569.1 499.1h0M1614.6 504.9h0M1648.4 524.7h0M1558.6 545.7h0M1552.8 549.2h0M1584.3 576h0M1609.9 576h0M1621.6 581.9h0" stroke="#fb8761" stroke-width="10.6" stroke-linecap="round" fill="none"/>
<path d="M1377.4 447.2h0M949.5 275h0M900 368.8h0M928 472h0M818.3 889.7h0M1616.5 537h0" stroke="#fcfdbf" stroke-width="10.6" stroke-linecap="round" fill="none"/>
<g fill="none" stroke="#000" stroke-width="4.7" stroke-linecap="butt">
<path d="M222.45 142.9V1302.45H1829"/>
<path d="M208 1291.1H222.45M208 870.3H222.45M208 450.3H222.45"/>
<path d="M347.5 1302.45V1317M868.7 1302.45V1317M1389.3 1302.45V1317"/>
</g>
<g font-family="Liberation Sans" font-size="52" fill="#000">
<text x="196" y="1310.5" text-anchor="end">-10</text>
<text x="196" y="889.5" text-anchor="end">0</text>
<text x="196" y="469.5" text-anchor="end">10</text>
<text x="347.5" y="1367" text-anchor="middle">-10</text>
<text x="868.7" y="1367" text-anchor="middle">0</text>
<text x="1389.3" y="1367" text-anchor="middle">10</text>
<text x="1980" y="686.5" textLength="69.5" lengthAdjust="spacingAndGlyphs">1.0</text>
<text x="1977.5" y="801.5">0.5</text>
<text x="1977.5" y="917">0.0</text>
</g>
<g font-family="Liberation Sans" font-size="63.5" fill="#000">
<text x="1022.2" y="1436" text-anchor="middle" textLength="229" lengthAdjust="spacingAndGlyphs">UMAP_1</text>
<text transform="translate(95.3 722.5) rotate(-90)" x="0" y="0" text-anchor="middle" textLength="233" lengthAdjust="spacingAndGlyphs">UMAP_2</text>
</g>
<rect x="1885" y="578" width="64" height="320.3" fill="url(#mg)"/>
<g stroke="#fff" stroke-width="2.4">
<path d="M1885 667.6h12.7M1936.3 667.6h12.7M1885 782.4h12.7M1936.3 782.4h12.7M1885 896.9h12.7M1936.3 896.9h12.7"/>
</g>
</svg></body></html>
